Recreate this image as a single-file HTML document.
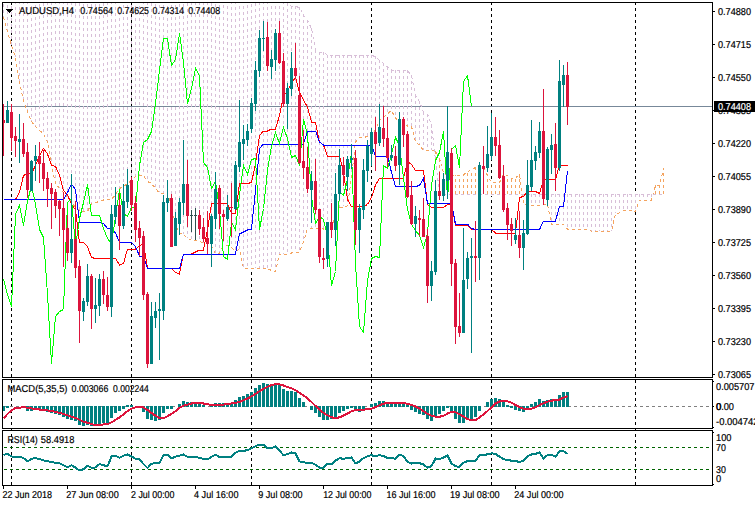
<!DOCTYPE html>
<html><head><meta charset="utf-8"><title>AUDUSD,H4</title>
<style>html,body{margin:0;padding:0;background:#fff;overflow:hidden}body{width:755px;height:506px;font-family:"Liberation Sans",sans-serif}</style></head>
<body>
<svg width="755" height="506" viewBox="0 0 755 506" shape-rendering="crispEdges" style="display:block">
<rect x="0" y="0" width="755" height="506" fill="#fff"/>
<defs><clipPath id="cm"><rect x="3" y="3" width="709" height="374"/></clipPath><clipPath id="c2"><rect x="3" y="380" width="709" height="48"/></clipPath><clipPath id="c3"><rect x="3" y="431" width="709" height="54"/></clipPath></defs>
<rect x="11" y="2" width="1" height="3" fill="#000"/>
<rect x="11" y="8" width="1" height="3" fill="#000"/>
<rect x="11" y="14" width="1" height="3" fill="#000"/>
<rect x="11" y="20" width="1" height="3" fill="#000"/>
<rect x="11" y="26" width="1" height="3" fill="#000"/>
<rect x="11" y="32" width="1" height="3" fill="#000"/>
<rect x="11" y="38" width="1" height="3" fill="#000"/>
<rect x="11" y="44" width="1" height="3" fill="#000"/>
<rect x="11" y="50" width="1" height="3" fill="#000"/>
<rect x="11" y="56" width="1" height="3" fill="#000"/>
<rect x="11" y="62" width="1" height="3" fill="#000"/>
<rect x="11" y="68" width="1" height="3" fill="#000"/>
<rect x="11" y="74" width="1" height="3" fill="#000"/>
<rect x="11" y="80" width="1" height="3" fill="#000"/>
<rect x="11" y="86" width="1" height="3" fill="#000"/>
<rect x="11" y="92" width="1" height="3" fill="#000"/>
<rect x="11" y="98" width="1" height="3" fill="#000"/>
<rect x="11" y="104" width="1" height="3" fill="#000"/>
<rect x="11" y="110" width="1" height="3" fill="#000"/>
<rect x="11" y="116" width="1" height="3" fill="#000"/>
<rect x="11" y="122" width="1" height="3" fill="#000"/>
<rect x="11" y="128" width="1" height="3" fill="#000"/>
<rect x="11" y="134" width="1" height="3" fill="#000"/>
<rect x="11" y="140" width="1" height="3" fill="#000"/>
<rect x="11" y="146" width="1" height="3" fill="#000"/>
<rect x="11" y="152" width="1" height="3" fill="#000"/>
<rect x="11" y="158" width="1" height="3" fill="#000"/>
<rect x="11" y="164" width="1" height="3" fill="#000"/>
<rect x="11" y="170" width="1" height="3" fill="#000"/>
<rect x="11" y="176" width="1" height="3" fill="#000"/>
<rect x="11" y="182" width="1" height="3" fill="#000"/>
<rect x="11" y="188" width="1" height="3" fill="#000"/>
<rect x="11" y="194" width="1" height="3" fill="#000"/>
<rect x="11" y="200" width="1" height="3" fill="#000"/>
<rect x="11" y="206" width="1" height="3" fill="#000"/>
<rect x="11" y="212" width="1" height="3" fill="#000"/>
<rect x="11" y="218" width="1" height="3" fill="#000"/>
<rect x="11" y="224" width="1" height="3" fill="#000"/>
<rect x="11" y="230" width="1" height="3" fill="#000"/>
<rect x="11" y="236" width="1" height="3" fill="#000"/>
<rect x="11" y="242" width="1" height="3" fill="#000"/>
<rect x="11" y="248" width="1" height="3" fill="#000"/>
<rect x="11" y="254" width="1" height="3" fill="#000"/>
<rect x="11" y="260" width="1" height="3" fill="#000"/>
<rect x="11" y="266" width="1" height="3" fill="#000"/>
<rect x="11" y="272" width="1" height="3" fill="#000"/>
<rect x="11" y="278" width="1" height="3" fill="#000"/>
<rect x="11" y="284" width="1" height="3" fill="#000"/>
<rect x="11" y="290" width="1" height="3" fill="#000"/>
<rect x="11" y="296" width="1" height="3" fill="#000"/>
<rect x="11" y="302" width="1" height="3" fill="#000"/>
<rect x="11" y="308" width="1" height="3" fill="#000"/>
<rect x="11" y="314" width="1" height="3" fill="#000"/>
<rect x="11" y="320" width="1" height="3" fill="#000"/>
<rect x="11" y="326" width="1" height="3" fill="#000"/>
<rect x="11" y="332" width="1" height="3" fill="#000"/>
<rect x="11" y="338" width="1" height="3" fill="#000"/>
<rect x="11" y="344" width="1" height="3" fill="#000"/>
<rect x="11" y="350" width="1" height="3" fill="#000"/>
<rect x="11" y="356" width="1" height="3" fill="#000"/>
<rect x="11" y="362" width="1" height="3" fill="#000"/>
<rect x="11" y="368" width="1" height="3" fill="#000"/>
<rect x="11" y="374" width="1" height="3" fill="#000"/>
<rect x="11" y="380" width="1" height="3" fill="#000"/>
<rect x="11" y="386" width="1" height="3" fill="#000"/>
<rect x="11" y="392" width="1" height="3" fill="#000"/>
<rect x="11" y="398" width="1" height="3" fill="#000"/>
<rect x="11" y="404" width="1" height="3" fill="#000"/>
<rect x="11" y="410" width="1" height="3" fill="#000"/>
<rect x="11" y="416" width="1" height="3" fill="#000"/>
<rect x="11" y="422" width="1" height="3" fill="#000"/>
<rect x="11" y="428" width="1" height="3" fill="#000"/>
<rect x="11" y="434" width="1" height="3" fill="#000"/>
<rect x="11" y="440" width="1" height="3" fill="#000"/>
<rect x="11" y="446" width="1" height="3" fill="#000"/>
<rect x="11" y="452" width="1" height="3" fill="#000"/>
<rect x="11" y="458" width="1" height="3" fill="#000"/>
<rect x="11" y="464" width="1" height="3" fill="#000"/>
<rect x="11" y="470" width="1" height="3" fill="#000"/>
<rect x="11" y="476" width="1" height="3" fill="#000"/>
<rect x="11" y="482" width="1" height="3" fill="#000"/>
<rect x="131" y="2" width="1" height="3" fill="#000"/>
<rect x="131" y="8" width="1" height="3" fill="#000"/>
<rect x="131" y="14" width="1" height="3" fill="#000"/>
<rect x="131" y="20" width="1" height="3" fill="#000"/>
<rect x="131" y="26" width="1" height="3" fill="#000"/>
<rect x="131" y="32" width="1" height="3" fill="#000"/>
<rect x="131" y="38" width="1" height="3" fill="#000"/>
<rect x="131" y="44" width="1" height="3" fill="#000"/>
<rect x="131" y="50" width="1" height="3" fill="#000"/>
<rect x="131" y="56" width="1" height="3" fill="#000"/>
<rect x="131" y="62" width="1" height="3" fill="#000"/>
<rect x="131" y="68" width="1" height="3" fill="#000"/>
<rect x="131" y="74" width="1" height="3" fill="#000"/>
<rect x="131" y="80" width="1" height="3" fill="#000"/>
<rect x="131" y="86" width="1" height="3" fill="#000"/>
<rect x="131" y="92" width="1" height="3" fill="#000"/>
<rect x="131" y="98" width="1" height="3" fill="#000"/>
<rect x="131" y="104" width="1" height="3" fill="#000"/>
<rect x="131" y="110" width="1" height="3" fill="#000"/>
<rect x="131" y="116" width="1" height="3" fill="#000"/>
<rect x="131" y="122" width="1" height="3" fill="#000"/>
<rect x="131" y="128" width="1" height="3" fill="#000"/>
<rect x="131" y="134" width="1" height="3" fill="#000"/>
<rect x="131" y="140" width="1" height="3" fill="#000"/>
<rect x="131" y="146" width="1" height="3" fill="#000"/>
<rect x="131" y="152" width="1" height="3" fill="#000"/>
<rect x="131" y="158" width="1" height="3" fill="#000"/>
<rect x="131" y="164" width="1" height="3" fill="#000"/>
<rect x="131" y="170" width="1" height="3" fill="#000"/>
<rect x="131" y="176" width="1" height="3" fill="#000"/>
<rect x="131" y="182" width="1" height="3" fill="#000"/>
<rect x="131" y="188" width="1" height="3" fill="#000"/>
<rect x="131" y="194" width="1" height="3" fill="#000"/>
<rect x="131" y="200" width="1" height="3" fill="#000"/>
<rect x="131" y="206" width="1" height="3" fill="#000"/>
<rect x="131" y="212" width="1" height="3" fill="#000"/>
<rect x="131" y="218" width="1" height="3" fill="#000"/>
<rect x="131" y="224" width="1" height="3" fill="#000"/>
<rect x="131" y="230" width="1" height="3" fill="#000"/>
<rect x="131" y="236" width="1" height="3" fill="#000"/>
<rect x="131" y="242" width="1" height="3" fill="#000"/>
<rect x="131" y="248" width="1" height="3" fill="#000"/>
<rect x="131" y="254" width="1" height="3" fill="#000"/>
<rect x="131" y="260" width="1" height="3" fill="#000"/>
<rect x="131" y="266" width="1" height="3" fill="#000"/>
<rect x="131" y="272" width="1" height="3" fill="#000"/>
<rect x="131" y="278" width="1" height="3" fill="#000"/>
<rect x="131" y="284" width="1" height="3" fill="#000"/>
<rect x="131" y="290" width="1" height="3" fill="#000"/>
<rect x="131" y="296" width="1" height="3" fill="#000"/>
<rect x="131" y="302" width="1" height="3" fill="#000"/>
<rect x="131" y="308" width="1" height="3" fill="#000"/>
<rect x="131" y="314" width="1" height="3" fill="#000"/>
<rect x="131" y="320" width="1" height="3" fill="#000"/>
<rect x="131" y="326" width="1" height="3" fill="#000"/>
<rect x="131" y="332" width="1" height="3" fill="#000"/>
<rect x="131" y="338" width="1" height="3" fill="#000"/>
<rect x="131" y="344" width="1" height="3" fill="#000"/>
<rect x="131" y="350" width="1" height="3" fill="#000"/>
<rect x="131" y="356" width="1" height="3" fill="#000"/>
<rect x="131" y="362" width="1" height="3" fill="#000"/>
<rect x="131" y="368" width="1" height="3" fill="#000"/>
<rect x="131" y="374" width="1" height="3" fill="#000"/>
<rect x="131" y="380" width="1" height="3" fill="#000"/>
<rect x="131" y="386" width="1" height="3" fill="#000"/>
<rect x="131" y="392" width="1" height="3" fill="#000"/>
<rect x="131" y="398" width="1" height="3" fill="#000"/>
<rect x="131" y="404" width="1" height="3" fill="#000"/>
<rect x="131" y="410" width="1" height="3" fill="#000"/>
<rect x="131" y="416" width="1" height="3" fill="#000"/>
<rect x="131" y="422" width="1" height="3" fill="#000"/>
<rect x="131" y="428" width="1" height="3" fill="#000"/>
<rect x="131" y="434" width="1" height="3" fill="#000"/>
<rect x="131" y="440" width="1" height="3" fill="#000"/>
<rect x="131" y="446" width="1" height="3" fill="#000"/>
<rect x="131" y="452" width="1" height="3" fill="#000"/>
<rect x="131" y="458" width="1" height="3" fill="#000"/>
<rect x="131" y="464" width="1" height="3" fill="#000"/>
<rect x="131" y="470" width="1" height="3" fill="#000"/>
<rect x="131" y="476" width="1" height="3" fill="#000"/>
<rect x="131" y="482" width="1" height="3" fill="#000"/>
<rect x="251" y="272" width="1" height="3" fill="#000"/>
<rect x="251" y="278" width="1" height="3" fill="#000"/>
<rect x="251" y="284" width="1" height="3" fill="#000"/>
<rect x="251" y="290" width="1" height="3" fill="#000"/>
<rect x="251" y="296" width="1" height="3" fill="#000"/>
<rect x="251" y="302" width="1" height="3" fill="#000"/>
<rect x="251" y="308" width="1" height="3" fill="#000"/>
<rect x="251" y="314" width="1" height="3" fill="#000"/>
<rect x="251" y="320" width="1" height="3" fill="#000"/>
<rect x="251" y="326" width="1" height="3" fill="#000"/>
<rect x="251" y="332" width="1" height="3" fill="#000"/>
<rect x="251" y="338" width="1" height="3" fill="#000"/>
<rect x="251" y="344" width="1" height="3" fill="#000"/>
<rect x="251" y="350" width="1" height="3" fill="#000"/>
<rect x="251" y="356" width="1" height="3" fill="#000"/>
<rect x="251" y="362" width="1" height="3" fill="#000"/>
<rect x="251" y="368" width="1" height="3" fill="#000"/>
<rect x="251" y="374" width="1" height="3" fill="#000"/>
<rect x="251" y="380" width="1" height="3" fill="#000"/>
<rect x="251" y="386" width="1" height="3" fill="#000"/>
<rect x="251" y="392" width="1" height="3" fill="#000"/>
<rect x="251" y="398" width="1" height="3" fill="#000"/>
<rect x="251" y="404" width="1" height="3" fill="#000"/>
<rect x="251" y="410" width="1" height="3" fill="#000"/>
<rect x="251" y="416" width="1" height="3" fill="#000"/>
<rect x="251" y="422" width="1" height="3" fill="#000"/>
<rect x="251" y="428" width="1" height="3" fill="#000"/>
<rect x="251" y="434" width="1" height="3" fill="#000"/>
<rect x="251" y="440" width="1" height="3" fill="#000"/>
<rect x="251" y="446" width="1" height="3" fill="#000"/>
<rect x="251" y="452" width="1" height="3" fill="#000"/>
<rect x="251" y="458" width="1" height="3" fill="#000"/>
<rect x="251" y="464" width="1" height="3" fill="#000"/>
<rect x="251" y="470" width="1" height="3" fill="#000"/>
<rect x="251" y="476" width="1" height="3" fill="#000"/>
<rect x="251" y="482" width="1" height="3" fill="#000"/>
<rect x="371" y="2" width="1" height="3" fill="#000"/>
<rect x="371" y="8" width="1" height="3" fill="#000"/>
<rect x="371" y="14" width="1" height="3" fill="#000"/>
<rect x="371" y="20" width="1" height="3" fill="#000"/>
<rect x="371" y="26" width="1" height="3" fill="#000"/>
<rect x="371" y="32" width="1" height="3" fill="#000"/>
<rect x="371" y="38" width="1" height="3" fill="#000"/>
<rect x="371" y="44" width="1" height="3" fill="#000"/>
<rect x="371" y="50" width="1" height="3" fill="#000"/>
<rect x="371" y="140" width="1" height="3" fill="#000"/>
<rect x="371" y="146" width="1" height="3" fill="#000"/>
<rect x="371" y="152" width="1" height="3" fill="#000"/>
<rect x="371" y="158" width="1" height="3" fill="#000"/>
<rect x="371" y="164" width="1" height="3" fill="#000"/>
<rect x="371" y="170" width="1" height="3" fill="#000"/>
<rect x="371" y="176" width="1" height="3" fill="#000"/>
<rect x="371" y="182" width="1" height="3" fill="#000"/>
<rect x="371" y="188" width="1" height="3" fill="#000"/>
<rect x="371" y="194" width="1" height="3" fill="#000"/>
<rect x="371" y="200" width="1" height="3" fill="#000"/>
<rect x="371" y="206" width="1" height="3" fill="#000"/>
<rect x="371" y="212" width="1" height="3" fill="#000"/>
<rect x="371" y="218" width="1" height="3" fill="#000"/>
<rect x="371" y="224" width="1" height="3" fill="#000"/>
<rect x="371" y="230" width="1" height="3" fill="#000"/>
<rect x="371" y="236" width="1" height="3" fill="#000"/>
<rect x="371" y="242" width="1" height="3" fill="#000"/>
<rect x="371" y="248" width="1" height="3" fill="#000"/>
<rect x="371" y="254" width="1" height="3" fill="#000"/>
<rect x="371" y="260" width="1" height="3" fill="#000"/>
<rect x="371" y="266" width="1" height="3" fill="#000"/>
<rect x="371" y="272" width="1" height="3" fill="#000"/>
<rect x="371" y="278" width="1" height="3" fill="#000"/>
<rect x="371" y="284" width="1" height="3" fill="#000"/>
<rect x="371" y="290" width="1" height="3" fill="#000"/>
<rect x="371" y="296" width="1" height="3" fill="#000"/>
<rect x="371" y="302" width="1" height="3" fill="#000"/>
<rect x="371" y="308" width="1" height="3" fill="#000"/>
<rect x="371" y="314" width="1" height="3" fill="#000"/>
<rect x="371" y="320" width="1" height="3" fill="#000"/>
<rect x="371" y="326" width="1" height="3" fill="#000"/>
<rect x="371" y="332" width="1" height="3" fill="#000"/>
<rect x="371" y="338" width="1" height="3" fill="#000"/>
<rect x="371" y="344" width="1" height="3" fill="#000"/>
<rect x="371" y="350" width="1" height="3" fill="#000"/>
<rect x="371" y="356" width="1" height="3" fill="#000"/>
<rect x="371" y="362" width="1" height="3" fill="#000"/>
<rect x="371" y="368" width="1" height="3" fill="#000"/>
<rect x="371" y="374" width="1" height="3" fill="#000"/>
<rect x="371" y="380" width="1" height="3" fill="#000"/>
<rect x="371" y="386" width="1" height="3" fill="#000"/>
<rect x="371" y="392" width="1" height="3" fill="#000"/>
<rect x="371" y="398" width="1" height="3" fill="#000"/>
<rect x="371" y="404" width="1" height="3" fill="#000"/>
<rect x="371" y="410" width="1" height="3" fill="#000"/>
<rect x="371" y="416" width="1" height="3" fill="#000"/>
<rect x="371" y="422" width="1" height="3" fill="#000"/>
<rect x="371" y="428" width="1" height="3" fill="#000"/>
<rect x="371" y="434" width="1" height="3" fill="#000"/>
<rect x="371" y="440" width="1" height="3" fill="#000"/>
<rect x="371" y="446" width="1" height="3" fill="#000"/>
<rect x="371" y="452" width="1" height="3" fill="#000"/>
<rect x="371" y="458" width="1" height="3" fill="#000"/>
<rect x="371" y="464" width="1" height="3" fill="#000"/>
<rect x="371" y="470" width="1" height="3" fill="#000"/>
<rect x="371" y="476" width="1" height="3" fill="#000"/>
<rect x="371" y="482" width="1" height="3" fill="#000"/>
<rect x="491" y="2" width="1" height="3" fill="#000"/>
<rect x="491" y="8" width="1" height="3" fill="#000"/>
<rect x="491" y="14" width="1" height="3" fill="#000"/>
<rect x="491" y="20" width="1" height="3" fill="#000"/>
<rect x="491" y="26" width="1" height="3" fill="#000"/>
<rect x="491" y="32" width="1" height="3" fill="#000"/>
<rect x="491" y="38" width="1" height="3" fill="#000"/>
<rect x="491" y="44" width="1" height="3" fill="#000"/>
<rect x="491" y="50" width="1" height="3" fill="#000"/>
<rect x="491" y="56" width="1" height="3" fill="#000"/>
<rect x="491" y="62" width="1" height="3" fill="#000"/>
<rect x="491" y="68" width="1" height="3" fill="#000"/>
<rect x="491" y="74" width="1" height="3" fill="#000"/>
<rect x="491" y="80" width="1" height="3" fill="#000"/>
<rect x="491" y="86" width="1" height="3" fill="#000"/>
<rect x="491" y="92" width="1" height="3" fill="#000"/>
<rect x="491" y="98" width="1" height="3" fill="#000"/>
<rect x="491" y="104" width="1" height="3" fill="#000"/>
<rect x="491" y="110" width="1" height="3" fill="#000"/>
<rect x="491" y="116" width="1" height="3" fill="#000"/>
<rect x="491" y="122" width="1" height="3" fill="#000"/>
<rect x="491" y="128" width="1" height="3" fill="#000"/>
<rect x="491" y="134" width="1" height="3" fill="#000"/>
<rect x="491" y="140" width="1" height="3" fill="#000"/>
<rect x="491" y="146" width="1" height="3" fill="#000"/>
<rect x="491" y="152" width="1" height="3" fill="#000"/>
<rect x="491" y="158" width="1" height="3" fill="#000"/>
<rect x="491" y="164" width="1" height="3" fill="#000"/>
<rect x="491" y="170" width="1" height="3" fill="#000"/>
<rect x="491" y="176" width="1" height="3" fill="#000"/>
<rect x="491" y="196" width="1" height="1" fill="#000"/>
<rect x="491" y="200" width="1" height="3" fill="#000"/>
<rect x="491" y="206" width="1" height="3" fill="#000"/>
<rect x="491" y="212" width="1" height="3" fill="#000"/>
<rect x="491" y="218" width="1" height="3" fill="#000"/>
<rect x="491" y="224" width="1" height="3" fill="#000"/>
<rect x="491" y="230" width="1" height="3" fill="#000"/>
<rect x="491" y="236" width="1" height="3" fill="#000"/>
<rect x="491" y="242" width="1" height="3" fill="#000"/>
<rect x="491" y="248" width="1" height="3" fill="#000"/>
<rect x="491" y="254" width="1" height="3" fill="#000"/>
<rect x="491" y="260" width="1" height="3" fill="#000"/>
<rect x="491" y="266" width="1" height="3" fill="#000"/>
<rect x="491" y="272" width="1" height="3" fill="#000"/>
<rect x="491" y="278" width="1" height="3" fill="#000"/>
<rect x="491" y="284" width="1" height="3" fill="#000"/>
<rect x="491" y="290" width="1" height="3" fill="#000"/>
<rect x="491" y="296" width="1" height="3" fill="#000"/>
<rect x="491" y="302" width="1" height="3" fill="#000"/>
<rect x="491" y="308" width="1" height="3" fill="#000"/>
<rect x="491" y="314" width="1" height="3" fill="#000"/>
<rect x="491" y="320" width="1" height="3" fill="#000"/>
<rect x="491" y="326" width="1" height="3" fill="#000"/>
<rect x="491" y="332" width="1" height="3" fill="#000"/>
<rect x="491" y="338" width="1" height="3" fill="#000"/>
<rect x="491" y="344" width="1" height="3" fill="#000"/>
<rect x="491" y="350" width="1" height="3" fill="#000"/>
<rect x="491" y="356" width="1" height="3" fill="#000"/>
<rect x="491" y="362" width="1" height="3" fill="#000"/>
<rect x="491" y="368" width="1" height="3" fill="#000"/>
<rect x="491" y="374" width="1" height="3" fill="#000"/>
<rect x="491" y="380" width="1" height="3" fill="#000"/>
<rect x="491" y="386" width="1" height="3" fill="#000"/>
<rect x="491" y="392" width="1" height="3" fill="#000"/>
<rect x="491" y="398" width="1" height="3" fill="#000"/>
<rect x="491" y="404" width="1" height="3" fill="#000"/>
<rect x="491" y="410" width="1" height="3" fill="#000"/>
<rect x="491" y="416" width="1" height="3" fill="#000"/>
<rect x="491" y="422" width="1" height="3" fill="#000"/>
<rect x="491" y="428" width="1" height="3" fill="#000"/>
<rect x="491" y="434" width="1" height="3" fill="#000"/>
<rect x="491" y="440" width="1" height="3" fill="#000"/>
<rect x="491" y="446" width="1" height="3" fill="#000"/>
<rect x="491" y="452" width="1" height="3" fill="#000"/>
<rect x="491" y="458" width="1" height="3" fill="#000"/>
<rect x="491" y="464" width="1" height="3" fill="#000"/>
<rect x="491" y="470" width="1" height="3" fill="#000"/>
<rect x="491" y="476" width="1" height="3" fill="#000"/>
<rect x="491" y="482" width="1" height="3" fill="#000"/>
<rect x="635" y="2" width="1" height="3" fill="#000"/>
<rect x="635" y="8" width="1" height="3" fill="#000"/>
<rect x="635" y="14" width="1" height="3" fill="#000"/>
<rect x="635" y="20" width="1" height="3" fill="#000"/>
<rect x="635" y="26" width="1" height="3" fill="#000"/>
<rect x="635" y="32" width="1" height="3" fill="#000"/>
<rect x="635" y="38" width="1" height="3" fill="#000"/>
<rect x="635" y="44" width="1" height="3" fill="#000"/>
<rect x="635" y="50" width="1" height="3" fill="#000"/>
<rect x="635" y="56" width="1" height="3" fill="#000"/>
<rect x="635" y="62" width="1" height="3" fill="#000"/>
<rect x="635" y="68" width="1" height="3" fill="#000"/>
<rect x="635" y="74" width="1" height="3" fill="#000"/>
<rect x="635" y="80" width="1" height="3" fill="#000"/>
<rect x="635" y="86" width="1" height="3" fill="#000"/>
<rect x="635" y="92" width="1" height="3" fill="#000"/>
<rect x="635" y="98" width="1" height="3" fill="#000"/>
<rect x="635" y="104" width="1" height="3" fill="#000"/>
<rect x="635" y="110" width="1" height="3" fill="#000"/>
<rect x="635" y="116" width="1" height="3" fill="#000"/>
<rect x="635" y="122" width="1" height="3" fill="#000"/>
<rect x="635" y="128" width="1" height="3" fill="#000"/>
<rect x="635" y="134" width="1" height="3" fill="#000"/>
<rect x="635" y="140" width="1" height="3" fill="#000"/>
<rect x="635" y="146" width="1" height="3" fill="#000"/>
<rect x="635" y="152" width="1" height="3" fill="#000"/>
<rect x="635" y="158" width="1" height="3" fill="#000"/>
<rect x="635" y="164" width="1" height="3" fill="#000"/>
<rect x="635" y="170" width="1" height="3" fill="#000"/>
<rect x="635" y="176" width="1" height="3" fill="#000"/>
<rect x="635" y="182" width="1" height="3" fill="#000"/>
<rect x="635" y="188" width="1" height="3" fill="#000"/>
<rect x="635" y="194" width="1" height="3" fill="#000"/>
<rect x="635" y="200" width="1" height="3" fill="#000"/>
<rect x="635" y="206" width="1" height="3" fill="#000"/>
<rect x="635" y="212" width="1" height="3" fill="#000"/>
<rect x="635" y="218" width="1" height="3" fill="#000"/>
<rect x="635" y="224" width="1" height="3" fill="#000"/>
<rect x="635" y="230" width="1" height="3" fill="#000"/>
<rect x="635" y="236" width="1" height="3" fill="#000"/>
<rect x="635" y="242" width="1" height="3" fill="#000"/>
<rect x="635" y="248" width="1" height="3" fill="#000"/>
<rect x="635" y="254" width="1" height="3" fill="#000"/>
<rect x="635" y="260" width="1" height="3" fill="#000"/>
<rect x="635" y="266" width="1" height="3" fill="#000"/>
<rect x="635" y="272" width="1" height="3" fill="#000"/>
<rect x="635" y="278" width="1" height="3" fill="#000"/>
<rect x="635" y="284" width="1" height="3" fill="#000"/>
<rect x="635" y="290" width="1" height="3" fill="#000"/>
<rect x="635" y="296" width="1" height="3" fill="#000"/>
<rect x="635" y="302" width="1" height="3" fill="#000"/>
<rect x="635" y="308" width="1" height="3" fill="#000"/>
<rect x="635" y="314" width="1" height="3" fill="#000"/>
<rect x="635" y="320" width="1" height="3" fill="#000"/>
<rect x="635" y="326" width="1" height="3" fill="#000"/>
<rect x="635" y="332" width="1" height="3" fill="#000"/>
<rect x="635" y="338" width="1" height="3" fill="#000"/>
<rect x="635" y="344" width="1" height="3" fill="#000"/>
<rect x="635" y="350" width="1" height="3" fill="#000"/>
<rect x="635" y="356" width="1" height="3" fill="#000"/>
<rect x="635" y="362" width="1" height="3" fill="#000"/>
<rect x="635" y="368" width="1" height="3" fill="#000"/>
<rect x="635" y="374" width="1" height="3" fill="#000"/>
<rect x="635" y="380" width="1" height="3" fill="#000"/>
<rect x="635" y="386" width="1" height="3" fill="#000"/>
<rect x="635" y="392" width="1" height="3" fill="#000"/>
<rect x="635" y="398" width="1" height="3" fill="#000"/>
<rect x="635" y="404" width="1" height="3" fill="#000"/>
<rect x="635" y="410" width="1" height="3" fill="#000"/>
<rect x="635" y="416" width="1" height="3" fill="#000"/>
<rect x="635" y="422" width="1" height="3" fill="#000"/>
<rect x="635" y="428" width="1" height="3" fill="#000"/>
<rect x="635" y="434" width="1" height="3" fill="#000"/>
<rect x="635" y="440" width="1" height="3" fill="#000"/>
<rect x="635" y="446" width="1" height="3" fill="#000"/>
<rect x="635" y="452" width="1" height="3" fill="#000"/>
<rect x="635" y="458" width="1" height="3" fill="#000"/>
<rect x="635" y="464" width="1" height="3" fill="#000"/>
<rect x="635" y="470" width="1" height="3" fill="#000"/>
<rect x="635" y="476" width="1" height="3" fill="#000"/>
<rect x="635" y="482" width="1" height="3" fill="#000"/>
<g clip-path="url(#cm)">
<rect x="3" y="106" width="709" height="1" fill="#778899"/>
<path d="M3.5 -8V17" stroke="#D8BFD8" stroke-width="1" stroke-dasharray="3,3" fill="none"/>
<path d="M7.5 -7V31" stroke="#D8BFD8" stroke-width="1" stroke-dasharray="3,3" fill="none"/>
<path d="M11.5 -6V45" stroke="#D8BFD8" stroke-width="1" stroke-dasharray="3,3" fill="none"/>
<path d="M15.5 -5V57" stroke="#D8BFD8" stroke-width="1" stroke-dasharray="3,3" fill="none"/>
<path d="M19.5 -5V82" stroke="#D8BFD8" stroke-width="1" stroke-dasharray="3,3" fill="none"/>
<path d="M23.5 -5V100" stroke="#D8BFD8" stroke-width="1" stroke-dasharray="3,3" fill="none"/>
<path d="M27.5 -5V111" stroke="#D8BFD8" stroke-width="1" stroke-dasharray="3,3" fill="none"/>
<path d="M31.5 -6V121" stroke="#D8BFD8" stroke-width="1" stroke-dasharray="3,3" fill="none"/>
<path d="M35.5 -7V126" stroke="#D8BFD8" stroke-width="1" stroke-dasharray="3,3" fill="none"/>
<path d="M39.5 -8V130" stroke="#D8BFD8" stroke-width="1" stroke-dasharray="3,3" fill="none"/>
<path d="M43.5 -9V133" stroke="#D8BFD8" stroke-width="1" stroke-dasharray="3,3" fill="none"/>
<path d="M47.5 -10V142" stroke="#D8BFD8" stroke-width="1" stroke-dasharray="3,3" fill="none"/>
<path d="M51.5 -10V165" stroke="#D8BFD8" stroke-width="1" stroke-dasharray="3,3" fill="none"/>
<path d="M55.5 -11V183" stroke="#D8BFD8" stroke-width="1" stroke-dasharray="3,3" fill="none"/>
<path d="M59.5 -11V188" stroke="#D8BFD8" stroke-width="1" stroke-dasharray="3,3" fill="none"/>
<path d="M63.5 -11V192" stroke="#D8BFD8" stroke-width="1" stroke-dasharray="3,3" fill="none"/>
<path d="M67.5 -10V197" stroke="#D8BFD8" stroke-width="1" stroke-dasharray="3,3" fill="none"/>
<path d="M71.5 -10V202" stroke="#D8BFD8" stroke-width="1" stroke-dasharray="3,3" fill="none"/>
<path d="M75.5 -9V207" stroke="#D8BFD8" stroke-width="1" stroke-dasharray="3,3" fill="none"/>
<path d="M79.5 -9V210" stroke="#D8BFD8" stroke-width="1" stroke-dasharray="3,3" fill="none"/>
<path d="M83.5 -8V212" stroke="#D8BFD8" stroke-width="1" stroke-dasharray="3,3" fill="none"/>
<path d="M87.5 -8V211" stroke="#D8BFD8" stroke-width="1" stroke-dasharray="3,3" fill="none"/>
<path d="M91.5 -8V203" stroke="#D8BFD8" stroke-width="1" stroke-dasharray="3,3" fill="none"/>
<path d="M95.5 -8V202" stroke="#D8BFD8" stroke-width="1" stroke-dasharray="3,3" fill="none"/>
<path d="M99.5 -8V201" stroke="#D8BFD8" stroke-width="1" stroke-dasharray="3,3" fill="none"/>
<path d="M103.5 -9V200" stroke="#D8BFD8" stroke-width="1" stroke-dasharray="3,3" fill="none"/>
<path d="M107.5 -10V199" stroke="#D8BFD8" stroke-width="1" stroke-dasharray="3,3" fill="none"/>
<path d="M111.5 -11V199" stroke="#D8BFD8" stroke-width="1" stroke-dasharray="3,3" fill="none"/>
<path d="M115.5 -11V194" stroke="#D8BFD8" stroke-width="1" stroke-dasharray="3,3" fill="none"/>
<path d="M119.5 -12V188" stroke="#D8BFD8" stroke-width="1" stroke-dasharray="3,3" fill="none"/>
<path d="M123.5 -13V186" stroke="#D8BFD8" stroke-width="1" stroke-dasharray="3,3" fill="none"/>
<path d="M127.5 -13V183" stroke="#D8BFD8" stroke-width="1" stroke-dasharray="3,3" fill="none"/>
<path d="M131.5 -13V180" stroke="#D8BFD8" stroke-width="1" stroke-dasharray="3,3" fill="none"/>
<path d="M135.5 -12V176" stroke="#D8BFD8" stroke-width="1" stroke-dasharray="3,3" fill="none"/>
<path d="M139.5 -12V175" stroke="#D8BFD8" stroke-width="1" stroke-dasharray="3,3" fill="none"/>
<path d="M143.5 -11V175" stroke="#D8BFD8" stroke-width="1" stroke-dasharray="3,3" fill="none"/>
<path d="M147.5 -10V181" stroke="#D8BFD8" stroke-width="1" stroke-dasharray="3,3" fill="none"/>
<path d="M151.5 -9V183" stroke="#D8BFD8" stroke-width="1" stroke-dasharray="3,3" fill="none"/>
<path d="M155.5 -8V188" stroke="#D8BFD8" stroke-width="1" stroke-dasharray="3,3" fill="none"/>
<path d="M159.5 -7V192" stroke="#D8BFD8" stroke-width="1" stroke-dasharray="3,3" fill="none"/>
<path d="M163.5 -7V194" stroke="#D8BFD8" stroke-width="1" stroke-dasharray="3,3" fill="none"/>
<path d="M167.5 -6V193" stroke="#D8BFD8" stroke-width="1" stroke-dasharray="3,3" fill="none"/>
<path d="M171.5 -7V205" stroke="#D8BFD8" stroke-width="1" stroke-dasharray="3,3" fill="none"/>
<path d="M175.5 -7V225" stroke="#D8BFD8" stroke-width="1" stroke-dasharray="3,3" fill="none"/>
<path d="M179.5 -8V233" stroke="#D8BFD8" stroke-width="1" stroke-dasharray="3,3" fill="none"/>
<path d="M183.5 -8V234" stroke="#D8BFD8" stroke-width="1" stroke-dasharray="3,3" fill="none"/>
<path d="M187.5 -9V238" stroke="#D8BFD8" stroke-width="1" stroke-dasharray="3,3" fill="none"/>
<path d="M191.5 -10V240" stroke="#D8BFD8" stroke-width="1" stroke-dasharray="3,3" fill="none"/>
<path d="M195.5 -10V240" stroke="#D8BFD8" stroke-width="1" stroke-dasharray="3,3" fill="none"/>
<path d="M199.5 -10V240" stroke="#D8BFD8" stroke-width="1" stroke-dasharray="3,3" fill="none"/>
<path d="M203.5 -10V243" stroke="#D8BFD8" stroke-width="1" stroke-dasharray="3,3" fill="none"/>
<path d="M207.5 -10V243" stroke="#D8BFD8" stroke-width="1" stroke-dasharray="3,3" fill="none"/>
<path d="M211.5 -9V245" stroke="#D8BFD8" stroke-width="1" stroke-dasharray="3,3" fill="none"/>
<path d="M215.5 -8V253" stroke="#D8BFD8" stroke-width="1" stroke-dasharray="3,3" fill="none"/>
<path d="M219.5 -7V252" stroke="#D8BFD8" stroke-width="1" stroke-dasharray="3,3" fill="none"/>
<path d="M223.5 -7V245" stroke="#D8BFD8" stroke-width="1" stroke-dasharray="3,3" fill="none"/>
<path d="M227.5 -6V245" stroke="#D8BFD8" stroke-width="1" stroke-dasharray="3,3" fill="none"/>
<path d="M231.5 -5V247" stroke="#D8BFD8" stroke-width="1" stroke-dasharray="3,3" fill="none"/>
<path d="M235.5 -5V250" stroke="#D8BFD8" stroke-width="1" stroke-dasharray="3,3" fill="none"/>
<path d="M239.5 -6V249" stroke="#D8BFD8" stroke-width="1" stroke-dasharray="3,3" fill="none"/>
<path d="M243.5 -6V268" stroke="#D8BFD8" stroke-width="1" stroke-dasharray="3,3" fill="none"/>
<path d="M247.5 -7V268" stroke="#D8BFD8" stroke-width="1" stroke-dasharray="3,3" fill="none"/>
<path d="M251.5 -8V268" stroke="#D8BFD8" stroke-width="1" stroke-dasharray="3,3" fill="none"/>
<path d="M255.5 -9V268" stroke="#D8BFD8" stroke-width="1" stroke-dasharray="3,3" fill="none"/>
<path d="M259.5 -10V268" stroke="#D8BFD8" stroke-width="1" stroke-dasharray="3,3" fill="none"/>
<path d="M263.5 -11V268" stroke="#D8BFD8" stroke-width="1" stroke-dasharray="3,3" fill="none"/>
<path d="M267.5 -11V268" stroke="#D8BFD8" stroke-width="1" stroke-dasharray="3,3" fill="none"/>
<path d="M271.5 -12V270" stroke="#D8BFD8" stroke-width="1" stroke-dasharray="3,3" fill="none"/>
<path d="M275.5 -12V271" stroke="#D8BFD8" stroke-width="1" stroke-dasharray="3,3" fill="none"/>
<path d="M279.5 -12V254" stroke="#D8BFD8" stroke-width="1" stroke-dasharray="3,3" fill="none"/>
<path d="M283.5 -11V254" stroke="#D8BFD8" stroke-width="1" stroke-dasharray="3,3" fill="none"/>
<path d="M287.5 3V254" stroke="#D8BFD8" stroke-width="1" stroke-dasharray="3,3" fill="none"/>
<path d="M291.5 6V252" stroke="#D8BFD8" stroke-width="1" stroke-dasharray="3,3" fill="none"/>
<path d="M295.5 6V252" stroke="#D8BFD8" stroke-width="1" stroke-dasharray="3,3" fill="none"/>
<path d="M299.5 7V252" stroke="#D8BFD8" stroke-width="1" stroke-dasharray="3,3" fill="none"/>
<path d="M303.5 14V242" stroke="#D8BFD8" stroke-width="1" stroke-dasharray="3,3" fill="none"/>
<path d="M307.5 20V228" stroke="#D8BFD8" stroke-width="1" stroke-dasharray="3,3" fill="none"/>
<path d="M311.5 28V228" stroke="#D8BFD8" stroke-width="1" stroke-dasharray="3,3" fill="none"/>
<path d="M315.5 50V228" stroke="#D8BFD8" stroke-width="1" stroke-dasharray="3,3" fill="none"/>
<path d="M319.5 52V228" stroke="#D8BFD8" stroke-width="1" stroke-dasharray="3,3" fill="none"/>
<path d="M323.5 52V228" stroke="#D8BFD8" stroke-width="1" stroke-dasharray="3,3" fill="none"/>
<path d="M327.5 55V233" stroke="#D8BFD8" stroke-width="1" stroke-dasharray="3,3" fill="none"/>
<path d="M331.5 55V234" stroke="#D8BFD8" stroke-width="1" stroke-dasharray="3,3" fill="none"/>
<path d="M335.5 55V208" stroke="#D8BFD8" stroke-width="1" stroke-dasharray="3,3" fill="none"/>
<path d="M339.5 55V207" stroke="#D8BFD8" stroke-width="1" stroke-dasharray="3,3" fill="none"/>
<path d="M343.5 55V206" stroke="#D8BFD8" stroke-width="1" stroke-dasharray="3,3" fill="none"/>
<path d="M347.5 55V205" stroke="#D8BFD8" stroke-width="1" stroke-dasharray="3,3" fill="none"/>
<path d="M351.5 55V177" stroke="#D8BFD8" stroke-width="1" stroke-dasharray="3,3" fill="none"/>
<path d="M355.5 55V142" stroke="#D8BFD8" stroke-width="1" stroke-dasharray="3,3" fill="none"/>
<path d="M359.5 55V137" stroke="#D8BFD8" stroke-width="1" stroke-dasharray="3,3" fill="none"/>
<path d="M363.5 55V137" stroke="#D8BFD8" stroke-width="1" stroke-dasharray="3,3" fill="none"/>
<path d="M367.5 55V136" stroke="#D8BFD8" stroke-width="1" stroke-dasharray="3,3" fill="none"/>
<path d="M371.5 55V136" stroke="#D8BFD8" stroke-width="1" stroke-dasharray="3,3" fill="none"/>
<path d="M375.5 56V129" stroke="#D8BFD8" stroke-width="1" stroke-dasharray="3,3" fill="none"/>
<path d="M379.5 60V120" stroke="#D8BFD8" stroke-width="1" stroke-dasharray="3,3" fill="none"/>
<path d="M383.5 63V117" stroke="#D8BFD8" stroke-width="1" stroke-dasharray="3,3" fill="none"/>
<path d="M387.5 67V113" stroke="#D8BFD8" stroke-width="1" stroke-dasharray="3,3" fill="none"/>
<path d="M391.5 70V110" stroke="#D8BFD8" stroke-width="1" stroke-dasharray="3,3" fill="none"/>
<path d="M395.5 70V118" stroke="#D8BFD8" stroke-width="1" stroke-dasharray="3,3" fill="none"/>
<path d="M399.5 70V122" stroke="#D8BFD8" stroke-width="1" stroke-dasharray="3,3" fill="none"/>
<path d="M403.5 70V118" stroke="#D8BFD8" stroke-width="1" stroke-dasharray="3,3" fill="none"/>
<path d="M407.5 70V126" stroke="#D8BFD8" stroke-width="1" stroke-dasharray="3,3" fill="none"/>
<path d="M411.5 75V126" stroke="#D8BFD8" stroke-width="1" stroke-dasharray="3,3" fill="none"/>
<path d="M415.5 95V142" stroke="#D8BFD8" stroke-width="1" stroke-dasharray="3,3" fill="none"/>
<path d="M419.5 101V144" stroke="#D8BFD8" stroke-width="1" stroke-dasharray="3,3" fill="none"/>
<path d="M423.5 112V150" stroke="#D8BFD8" stroke-width="1" stroke-dasharray="3,3" fill="none"/>
<path d="M427.5 114V150" stroke="#D8BFD8" stroke-width="1" stroke-dasharray="3,3" fill="none"/>
<path d="M431.5 124V150" stroke="#D8BFD8" stroke-width="1" stroke-dasharray="3,3" fill="none"/>
<path d="M435.5 160V150" stroke="#F4A460" stroke-width="1" stroke-dasharray="3,3" fill="none"/>
<path d="M439.5 192V158" stroke="#F4A460" stroke-width="1" stroke-dasharray="3,3" fill="none"/>
<path d="M443.5 194V172" stroke="#F4A460" stroke-width="1" stroke-dasharray="3,3" fill="none"/>
<path d="M447.5 194V175" stroke="#F4A460" stroke-width="1" stroke-dasharray="3,3" fill="none"/>
<path d="M451.5 194V175" stroke="#F4A460" stroke-width="1" stroke-dasharray="3,3" fill="none"/>
<path d="M455.5 194V175" stroke="#F4A460" stroke-width="1" stroke-dasharray="3,3" fill="none"/>
<path d="M459.5 194V175" stroke="#F4A460" stroke-width="1" stroke-dasharray="3,3" fill="none"/>
<path d="M463.5 194V174" stroke="#F4A460" stroke-width="1" stroke-dasharray="3,3" fill="none"/>
<path d="M467.5 194V171" stroke="#F4A460" stroke-width="1" stroke-dasharray="3,3" fill="none"/>
<path d="M471.5 194V170" stroke="#F4A460" stroke-width="1" stroke-dasharray="3,3" fill="none"/>
<path d="M475.5 194V167" stroke="#F4A460" stroke-width="1" stroke-dasharray="3,3" fill="none"/>
<path d="M479.5 194V167" stroke="#F4A460" stroke-width="1" stroke-dasharray="3,3" fill="none"/>
<path d="M483.5 194V167" stroke="#F4A460" stroke-width="1" stroke-dasharray="3,3" fill="none"/>
<path d="M487.5 194V175" stroke="#F4A460" stroke-width="1" stroke-dasharray="3,3" fill="none"/>
<path d="M491.5 194V182" stroke="#F4A460" stroke-width="1" stroke-dasharray="3,3" fill="none"/>
<path d="M495.5 194V182" stroke="#F4A460" stroke-width="1" stroke-dasharray="3,3" fill="none"/>
<path d="M499.5 194V182" stroke="#F4A460" stroke-width="1" stroke-dasharray="3,3" fill="none"/>
<path d="M503.5 194V174" stroke="#F4A460" stroke-width="1" stroke-dasharray="3,3" fill="none"/>
<path d="M507.5 194V175" stroke="#F4A460" stroke-width="1" stroke-dasharray="3,3" fill="none"/>
<path d="M511.5 194V178" stroke="#F4A460" stroke-width="1" stroke-dasharray="3,3" fill="none"/>
<path d="M515.5 194V178" stroke="#F4A460" stroke-width="1" stroke-dasharray="3,3" fill="none"/>
<path d="M519.5 194V174" stroke="#F4A460" stroke-width="1" stroke-dasharray="3,3" fill="none"/>
<path d="M523.5 194V204" stroke="#D8BFD8" stroke-width="1" stroke-dasharray="3,3" fill="none"/>
<path d="M527.5 194V205" stroke="#D8BFD8" stroke-width="1" stroke-dasharray="3,3" fill="none"/>
<path d="M531.5 194V205" stroke="#D8BFD8" stroke-width="1" stroke-dasharray="3,3" fill="none"/>
<path d="M535.5 194V205" stroke="#D8BFD8" stroke-width="1" stroke-dasharray="3,3" fill="none"/>
<path d="M539.5 194V205" stroke="#D8BFD8" stroke-width="1" stroke-dasharray="3,3" fill="none"/>
<path d="M543.5 194V204" stroke="#D8BFD8" stroke-width="1" stroke-dasharray="3,3" fill="none"/>
<path d="M547.5 194V204" stroke="#D8BFD8" stroke-width="1" stroke-dasharray="3,3" fill="none"/>
<path d="M551.5 194V224" stroke="#D8BFD8" stroke-width="1" stroke-dasharray="3,3" fill="none"/>
<path d="M555.5 194V224" stroke="#D8BFD8" stroke-width="1" stroke-dasharray="3,3" fill="none"/>
<path d="M559.5 194V224" stroke="#D8BFD8" stroke-width="1" stroke-dasharray="3,3" fill="none"/>
<path d="M563.5 194V224" stroke="#D8BFD8" stroke-width="1" stroke-dasharray="3,3" fill="none"/>
<path d="M567.5 194V228" stroke="#D8BFD8" stroke-width="1" stroke-dasharray="3,3" fill="none"/>
<path d="M571.5 194V229" stroke="#D8BFD8" stroke-width="1" stroke-dasharray="3,3" fill="none"/>
<path d="M575.5 194V229" stroke="#D8BFD8" stroke-width="1" stroke-dasharray="3,3" fill="none"/>
<path d="M579.5 194V229" stroke="#D8BFD8" stroke-width="1" stroke-dasharray="3,3" fill="none"/>
<path d="M583.5 194V229" stroke="#D8BFD8" stroke-width="1" stroke-dasharray="3,3" fill="none"/>
<path d="M587.5 194V229" stroke="#D8BFD8" stroke-width="1" stroke-dasharray="3,3" fill="none"/>
<path d="M591.5 194V231" stroke="#D8BFD8" stroke-width="1" stroke-dasharray="3,3" fill="none"/>
<path d="M595.5 194V231" stroke="#D8BFD8" stroke-width="1" stroke-dasharray="3,3" fill="none"/>
<path d="M599.5 194V231" stroke="#D8BFD8" stroke-width="1" stroke-dasharray="3,3" fill="none"/>
<path d="M603.5 194V231" stroke="#D8BFD8" stroke-width="1" stroke-dasharray="3,3" fill="none"/>
<path d="M607.5 194V231" stroke="#D8BFD8" stroke-width="1" stroke-dasharray="3,3" fill="none"/>
<path d="M611.5 194V231" stroke="#D8BFD8" stroke-width="1" stroke-dasharray="3,3" fill="none"/>
<path d="M615.5 194V213" stroke="#D8BFD8" stroke-width="1" stroke-dasharray="3,3" fill="none"/>
<path d="M619.5 194V212" stroke="#D8BFD8" stroke-width="1" stroke-dasharray="3,3" fill="none"/>
<path d="M623.5 194V210" stroke="#D8BFD8" stroke-width="1" stroke-dasharray="3,3" fill="none"/>
<path d="M627.5 194V210" stroke="#D8BFD8" stroke-width="1" stroke-dasharray="3,3" fill="none"/>
<path d="M631.5 194V210" stroke="#D8BFD8" stroke-width="1" stroke-dasharray="3,3" fill="none"/>
<path d="M635.5 194V211" stroke="#D8BFD8" stroke-width="1" stroke-dasharray="3,3" fill="none"/>
<path d="M639.5 194V200" stroke="#D8BFD8" stroke-width="1" stroke-dasharray="3,3" fill="none"/>
<path d="M643.5 194V200" stroke="#D8BFD8" stroke-width="1" stroke-dasharray="3,3" fill="none"/>
<path d="M647.5 194V200" stroke="#D8BFD8" stroke-width="1" stroke-dasharray="3,3" fill="none"/>
<path d="M651.5 194V200" stroke="#D8BFD8" stroke-width="1" stroke-dasharray="3,3" fill="none"/>
<path d="M655.5 194V185" stroke="#F4A460" stroke-width="1" stroke-dasharray="3,3" fill="none"/>
<path d="M659.5 194V185" stroke="#F4A460" stroke-width="1" stroke-dasharray="3,3" fill="none"/>
<path d="M663.5 194V168" stroke="#F4A460" stroke-width="1" stroke-dasharray="3,3" fill="none"/>
<polyline points="3.5,17.5 7.5,31.5 11.5,45.5 15.5,57.5 19.5,82.5 23.5,100.5 27.5,111.5 31.5,121.5 35.5,126.5 39.5,130.5 43.5,133.5 47.5,142.5 51.5,165.5 55.5,183.5 59.5,188.5 63.5,192.5 67.5,197.5 71.5,202.5 75.5,207.5 79.5,210.5 83.5,212.0 87.5,211.5 91.5,203.5 95.5,202.5 99.5,201.5 103.5,200.0 107.5,199.5 111.5,199.5 115.5,194.5 119.5,188.5 123.5,186.5 127.5,183.5 131.5,180.5 135.5,176.5 139.5,175.5 143.5,175.5 147.5,181.5 151.5,183.5 155.5,188.5 159.5,193.0 163.5,194.0 167.5,193.5 171.5,205.5 175.5,225.5 179.5,233.5 183.5,234.5 187.5,238.5 191.5,240.2 195.5,240.2 199.5,241.0 203.5,243.5 207.5,243.5 211.5,245.8 215.5,253.8 219.5,253.0 223.5,245.8 227.5,245.8 231.5,247.8 235.5,251.0 239.5,249.5 243.5,268.5 247.5,268.5 251.5,268.5 255.5,268.5 259.5,268.5 263.5,268.5 267.5,268.5 271.5,270.5 275.5,271.2 279.5,254.0 283.5,254.0 287.5,254.0 291.5,253.0 295.5,252.0 299.5,252.0 303.5,242.0 307.5,228.8 311.5,228.8 315.5,228.8 319.5,228.8 323.5,228.8 327.5,233.8 331.5,234.0 335.5,208.8 339.5,207.8 343.5,206.8 347.5,205.8 351.5,177.2 355.5,142.0 359.5,137.5 363.5,137.5 367.5,136.5 371.5,136.5 375.5,129.8 379.5,120.2 383.5,117.2 387.5,113.8 391.5,110.5 395.5,118.2 399.5,122.0 403.5,119.0 407.5,126.5 411.5,126.5 415.5,142.0 419.5,145.0 423.5,150.5 427.5,150.5 431.5,150.5 435.5,150.5 439.5,158.8 443.5,172.2 447.5,175.8 451.5,175.8 455.5,175.8 459.5,175.8 463.5,174.8 467.5,171.2 471.5,170.5 475.5,167.2 479.5,167.2 483.5,167.2 487.5,175.5 491.5,182.5 495.5,182.5 499.5,182.5 503.5,174.0 507.5,175.5 511.5,178.5 515.5,178.0 519.5,174.5 523.5,204.0 527.5,205.5 531.5,205.5 535.5,205.5 539.5,205.5 543.5,204.0 547.5,204.0 551.5,224.5 555.5,224.5 559.5,224.5 563.5,224.5 567.5,229.0 571.5,229.5 575.5,229.5 579.5,229.5 583.5,229.5 587.5,229.5 591.5,231.2 595.5,231.2 599.5,231.2 603.5,231.2 607.5,231.2 611.5,231.2 615.5,213.5 619.5,213.0 623.5,210.5 627.5,210.5 631.5,210.5 635.5,211.5 639.5,200.2 643.5,200.2 647.5,200.2 651.5,200.2 655.5,185.8 659.5,185.8 663.5,168.0" fill="none" stroke="#F4A460" stroke-width="1" stroke-dasharray="3,3"/>
<polyline points="283.5,-10.5 287.5,3.5 291.5,6.5 295.5,6.5 299.5,7.5 303.5,15.0 307.5,20.5 311.5,28.5 315.5,50.5 319.5,52.1 323.5,52.1 327.5,55.1 331.5,55.5 335.5,55.5 339.5,55.5 343.5,55.5 347.5,55.5 351.5,55.5 355.5,55.5 359.5,55.5 363.5,55.5 367.5,55.5 371.5,55.5 375.5,56.5 379.5,60.5 383.5,63.1 387.5,67.1 391.5,70.0 395.5,70.0 399.5,70.0 403.5,70.0 407.5,70.5 411.5,75.5 415.5,95.5 419.5,101.5 423.5,112.1 427.5,114.2 431.5,124.5 435.5,160.5 439.5,192.5 443.5,194.7 447.5,194.7 451.5,194.7 455.5,194.7 459.5,194.7 463.5,194.7 467.5,194.7 471.5,194.7 475.5,194.7 479.5,194.7 483.5,194.7 487.5,194.7 491.5,194.7 495.5,194.7 499.5,194.7 503.5,194.7 507.5,194.7 511.5,194.7 515.5,194.7 519.5,194.7 523.5,194.7 527.5,194.7 531.5,194.7 535.5,194.7 539.5,194.7 543.5,194.7 547.5,194.7 551.5,194.7 555.5,194.7 559.5,194.7 563.5,194.7 567.5,194.7 571.5,194.7 575.5,194.7 579.5,194.7 583.5,194.7 587.5,194.7 591.5,194.7 595.5,194.7 599.5,194.7 603.5,194.7 607.5,194.7 611.5,194.7 615.5,194.7 619.5,194.7 623.5,194.7 627.5,194.7 631.5,194.7 635.5,194.7 639.5,194.7 643.5,194.7 647.5,194.7 651.5,194.7 655.5,194.7 659.5,194.7 663.5,194.7" fill="none" stroke="#D8BFD8" stroke-width="1" stroke-dasharray="3,3"/>
<polyline points="3.5,199.5 7.5,199.5 11.5,199.5 15.5,199.5 19.5,192.5 23.5,175.5 27.5,173.5 31.5,173.5 35.5,165.5 39.5,155.5 43.5,148.5 47.5,154.0 51.5,165.0 55.5,166.5 59.5,175.0 63.5,190.5 67.5,195.0 71.5,204.5 75.5,210.0 79.5,242.5 83.5,242.5 87.5,246.5 91.5,257.5 95.5,258.5 99.5,258.5 103.5,258.5 107.5,258.5 111.5,258.5 115.5,258.5 119.5,265.0 123.5,263.5 127.5,249.0 131.5,249.0 135.5,249.0 139.5,246.0 143.5,243.0 147.5,268.5 151.5,268.5 155.5,268.5 159.5,268.5 163.5,268.5 167.5,268.5 171.5,268.5 175.5,272.5 179.5,274.0 183.5,254.0 187.5,254.0 191.5,254.0 195.5,252.0 199.5,250.0 203.5,250.0 207.5,230.0 211.5,203.5 215.5,203.5 219.5,203.5 223.5,203.5 227.5,203.5 231.5,213.5 235.5,214.0 239.5,183.5 243.5,183.5 247.5,183.5 251.5,182.5 255.5,164.0 259.5,135.5 263.5,131.0 267.5,131.0 271.5,129.0 275.5,129.0 279.5,115.5 283.5,96.5 287.5,90.5 291.5,83.5 295.5,77.0 299.5,92.5 303.5,100.0 307.5,107.0 311.5,122.0 315.5,122.0 319.5,142.0 323.5,145.0 327.5,156.0 331.5,156.0 335.5,156.0 339.5,156.0 343.5,172.5 347.5,199.5 351.5,206.5 355.5,206.5 359.5,206.5 363.5,206.5 367.5,204.5 371.5,197.5 375.5,185.0 379.5,178.5 383.5,178.5 387.5,178.5 391.5,178.5 395.5,178.5 399.5,178.5 403.5,178.5 407.5,161.5 411.5,164.5 415.5,170.5 419.5,170.5 423.5,170.5 427.5,204.5 431.5,207.5 435.5,207.5 439.5,207.5 443.5,207.5 447.5,204.5 451.5,204.5 455.5,225.0 459.5,225.0 463.5,225.0 467.5,225.0 471.5,229.5 475.5,229.5 479.5,229.5 483.5,229.5 487.5,229.5 491.5,229.5 495.5,233.0 499.5,233.0 503.5,233.0 507.5,233.0 511.5,233.0 515.5,233.0 519.5,197.5 523.5,196.5 527.5,191.5 531.5,191.5 535.5,191.5 539.5,193.5 543.5,179.5 547.5,179.5 551.5,179.5 555.5,179.5 559.5,165.0 563.5,165.0 567.5,165.0" fill="none" stroke="#FF0000" stroke-width="1"/>
<polyline points="3.5,199.5 7.5,199.5 11.5,199.5 15.5,199.5 19.5,199.5 23.5,199.5 27.5,199.5 31.5,199.5 35.5,199.5 39.5,199.5 43.5,199.5 47.5,199.5 51.5,199.5 55.5,199.5 59.5,199.5 63.5,199.5 67.5,192.5 71.5,184.0 75.5,189.5 79.5,222.0 83.5,222.0 87.5,222.0 91.5,222.0 95.5,222.0 99.5,222.0 103.5,223.5 107.5,228.5 111.5,228.5 115.5,233.0 119.5,242.5 123.5,242.5 127.5,242.5 131.5,242.5 135.5,246.5 139.5,256.0 143.5,256.0 147.5,268.5 151.5,268.5 155.5,268.5 159.5,268.5 163.5,268.5 167.5,268.5 171.5,268.5 175.5,268.5 179.5,268.5 183.5,254.0 187.5,254.0 191.5,254.0 195.5,254.0 199.5,254.0 203.5,254.0 207.5,254.0 211.5,254.0 215.5,254.0 219.5,254.0 223.5,254.0 227.5,254.0 231.5,254.0 235.5,254.0 239.5,234.0 243.5,232.0 247.5,230.0 251.5,229.0 255.5,190.5 259.5,148.5 263.5,144.0 267.5,144.0 271.5,144.0 275.5,144.0 279.5,144.0 283.5,144.0 287.5,144.0 291.5,144.0 295.5,144.0 299.5,144.0 303.5,144.0 307.5,131.0 311.5,131.0 315.5,131.0 319.5,142.0 323.5,145.0 327.5,145.0 331.5,145.0 335.5,145.0 339.5,145.0 343.5,145.0 347.5,145.0 351.5,145.0 355.5,145.0 359.5,145.0 363.5,145.0 367.5,145.0 371.5,145.0 375.5,156.0 379.5,156.0 383.5,156.0 387.5,156.0 391.5,172.5 395.5,186.5 399.5,186.5 403.5,186.5 407.5,186.5 411.5,186.5 415.5,186.5 419.5,185.5 423.5,178.5 427.5,203.5 431.5,203.5 435.5,203.5 439.5,203.5 443.5,203.5 447.5,203.5 451.5,203.5 455.5,224.0 459.5,224.0 463.5,224.0 467.5,224.0 471.5,228.5 475.5,229.5 479.5,229.5 483.5,229.5 487.5,229.5 491.5,229.5 495.5,229.5 499.5,229.5 503.5,229.5 507.5,229.5 511.5,229.5 515.5,229.5 519.5,229.5 523.5,229.5 527.5,229.5 531.5,229.5 535.5,229.5 539.5,229.5 543.5,221.0 547.5,221.0 551.5,221.0 555.5,221.0 559.5,206.5 563.5,206.5 567.5,171.0" fill="none" stroke="#0000FF" stroke-width="1"/>
<polyline points="3.5,279.5 7.5,294.5 11.5,306.5 15.5,214.5 19.5,205.5 23.5,225.5 27.5,201.5 31.5,185.5 35.5,204.5 39.5,229.5 43.5,237.5 47.5,294.5 51.5,363.5 55.5,316.5 59.5,311.5 63.5,309.5 67.5,202.5 71.5,198.5 75.5,246.5 79.5,218.5 83.5,202.5 87.5,184.5 91.5,215.5 95.5,215.5 99.5,215.5 103.5,228.5 107.5,238.5 111.5,243.5 115.5,216.5 119.5,189.5 123.5,213.5 127.5,216.5 131.5,207.5 135.5,207.5 139.5,165.5 143.5,142.5 147.5,139.5 151.5,131.5 155.5,103.5 159.5,70.5 163.5,38.5 167.5,38.5 171.5,65.5 175.5,59.5 179.5,33.5 183.5,62.5 187.5,103.5 191.5,88.5 195.5,68.5 199.5,75.5 203.5,162.5 207.5,167.5 211.5,188.5 215.5,181.5 219.5,209.5 223.5,256.5 227.5,259.5 231.5,222.5 235.5,229.5 239.5,194.5 243.5,165.5 247.5,174.5 251.5,159.5 255.5,158.5 259.5,229.5 263.5,208.5 267.5,170.5 271.5,146.5 275.5,132.5 279.5,143.5 283.5,127.5 287.5,138.5 291.5,157.5 295.5,155.5 299.5,165.5 303.5,119.5 307.5,134.5 311.5,196.5 315.5,223.5 319.5,216.5 323.5,219.5 327.5,236.5 331.5,285.5 335.5,271.5 339.5,191.5 343.5,195.5 347.5,179.5 351.5,152.5 355.5,263.5 359.5,326.5 363.5,332.5 367.5,280.5 371.5,258.5 375.5,256.5 379.5,257.5 383.5,165.5 387.5,168.5 391.5,154.5 395.5,137.5 399.5,145.5 403.5,177.5 407.5,209.5 411.5,224.5 415.5,230.5 419.5,235.5 423.5,247.5 427.5,233.5 431.5,185.5 435.5,160.5 439.5,152.5 443.5,131.5 447.5,198.5 451.5,149.5 455.5,145.5 459.5,167.5 463.5,81.5 467.5,75.5 471.5,106.5" fill="none" stroke="#00FF00" stroke-width="1"/>
<rect x="3" y="104" width="1" height="52" fill="#DC143C"/>
<rect x="2" y="120" width="3" height="3" fill="#DC143C"/>
<rect x="7" y="101" width="1" height="22" fill="#008080"/>
<rect x="6" y="110" width="3" height="13" fill="#008080"/>
<rect x="11" y="104" width="1" height="47" fill="#DC143C"/>
<rect x="10" y="112" width="3" height="26" fill="#DC143C"/>
<rect x="15" y="127" width="1" height="30" fill="#DC143C"/>
<rect x="14" y="136" width="3" height="5" fill="#DC143C"/>
<rect x="19" y="114" width="1" height="49" fill="#008080"/>
<rect x="18" y="139" width="3" height="3" fill="#008080"/>
<rect x="23" y="123" width="1" height="34" fill="#DC143C"/>
<rect x="22" y="139" width="3" height="15" fill="#DC143C"/>
<rect x="27" y="143" width="1" height="55" fill="#DC143C"/>
<rect x="26" y="152" width="3" height="38" fill="#DC143C"/>
<rect x="31" y="160" width="1" height="31" fill="#008080"/>
<rect x="30" y="161" width="3" height="30" fill="#008080"/>
<rect x="35" y="145" width="1" height="36" fill="#008080"/>
<rect x="34" y="156" width="3" height="5" fill="#008080"/>
<rect x="39" y="142" width="1" height="41" fill="#DC143C"/>
<rect x="38" y="156" width="3" height="8" fill="#DC143C"/>
<rect x="43" y="150" width="1" height="41" fill="#DC143C"/>
<rect x="42" y="163" width="3" height="16" fill="#DC143C"/>
<rect x="47" y="172" width="1" height="35" fill="#DC143C"/>
<rect x="46" y="178" width="3" height="11" fill="#DC143C"/>
<rect x="51" y="183" width="1" height="46" fill="#DC143C"/>
<rect x="50" y="188" width="3" height="6" fill="#DC143C"/>
<rect x="55" y="189" width="1" height="29" fill="#DC143C"/>
<rect x="54" y="192" width="3" height="14" fill="#DC143C"/>
<rect x="59" y="200" width="1" height="36" fill="#DC143C"/>
<rect x="58" y="201" width="3" height="8" fill="#DC143C"/>
<rect x="63" y="192" width="1" height="75" fill="#DC143C"/>
<rect x="62" y="208" width="3" height="22" fill="#DC143C"/>
<rect x="67" y="215" width="1" height="46" fill="#DC143C"/>
<rect x="66" y="228" width="3" height="25" fill="#DC143C"/>
<rect x="71" y="174" width="1" height="89" fill="#008080"/>
<rect x="70" y="239" width="3" height="14" fill="#008080"/>
<rect x="75" y="201" width="1" height="77" fill="#DC143C"/>
<rect x="74" y="239" width="3" height="29" fill="#DC143C"/>
<rect x="79" y="260" width="1" height="83" fill="#DC143C"/>
<rect x="78" y="266" width="3" height="45" fill="#DC143C"/>
<rect x="83" y="298" width="1" height="23" fill="#008080"/>
<rect x="82" y="301" width="3" height="11" fill="#008080"/>
<rect x="87" y="264" width="1" height="42" fill="#008080"/>
<rect x="86" y="276" width="3" height="26" fill="#008080"/>
<rect x="91" y="274" width="1" height="55" fill="#DC143C"/>
<rect x="90" y="276" width="3" height="33" fill="#DC143C"/>
<rect x="95" y="278" width="1" height="45" fill="#008080"/>
<rect x="94" y="305" width="3" height="4" fill="#008080"/>
<rect x="99" y="274" width="1" height="42" fill="#008080"/>
<rect x="98" y="279" width="3" height="27" fill="#008080"/>
<rect x="103" y="271" width="1" height="33" fill="#DC143C"/>
<rect x="102" y="279" width="3" height="16" fill="#DC143C"/>
<rect x="107" y="277" width="1" height="34" fill="#DC143C"/>
<rect x="106" y="295" width="3" height="12" fill="#DC143C"/>
<rect x="111" y="205" width="1" height="112" fill="#008080"/>
<rect x="110" y="214" width="3" height="93" fill="#008080"/>
<rect x="115" y="187" width="1" height="37" fill="#008080"/>
<rect x="114" y="205" width="3" height="12" fill="#008080"/>
<rect x="119" y="193" width="1" height="57" fill="#DC143C"/>
<rect x="118" y="205" width="3" height="21" fill="#DC143C"/>
<rect x="123" y="184" width="1" height="45" fill="#008080"/>
<rect x="122" y="201" width="3" height="25" fill="#008080"/>
<rect x="127" y="169" width="1" height="39" fill="#008080"/>
<rect x="126" y="185" width="3" height="17" fill="#008080"/>
<rect x="131" y="177" width="1" height="34" fill="#DC143C"/>
<rect x="130" y="180" width="3" height="25" fill="#DC143C"/>
<rect x="135" y="196" width="1" height="46" fill="#DC143C"/>
<rect x="134" y="203" width="3" height="27" fill="#DC143C"/>
<rect x="139" y="221" width="1" height="35" fill="#DC143C"/>
<rect x="138" y="228" width="3" height="10" fill="#DC143C"/>
<rect x="143" y="231" width="1" height="69" fill="#DC143C"/>
<rect x="142" y="236" width="3" height="59" fill="#DC143C"/>
<rect x="147" y="292" width="1" height="76" fill="#DC143C"/>
<rect x="146" y="294" width="3" height="70" fill="#DC143C"/>
<rect x="151" y="302" width="1" height="62" fill="#008080"/>
<rect x="150" y="316" width="3" height="48" fill="#008080"/>
<rect x="155" y="302" width="1" height="26" fill="#008080"/>
<rect x="154" y="311" width="3" height="7" fill="#008080"/>
<rect x="159" y="293" width="1" height="67" fill="#008080"/>
<rect x="158" y="309" width="3" height="2" fill="#008080"/>
<rect x="163" y="195" width="1" height="125" fill="#008080"/>
<rect x="162" y="202" width="3" height="109" fill="#008080"/>
<rect x="167" y="180" width="1" height="32" fill="#008080"/>
<rect x="166" y="198" width="3" height="5" fill="#008080"/>
<rect x="171" y="194" width="1" height="53" fill="#DC143C"/>
<rect x="170" y="198" width="3" height="49" fill="#DC143C"/>
<rect x="175" y="212" width="1" height="34" fill="#008080"/>
<rect x="174" y="218" width="3" height="28" fill="#008080"/>
<rect x="179" y="198" width="1" height="37" fill="#008080"/>
<rect x="178" y="202" width="3" height="22" fill="#008080"/>
<rect x="183" y="140" width="1" height="75" fill="#008080"/>
<rect x="182" y="184" width="3" height="19" fill="#008080"/>
<rect x="187" y="160" width="1" height="67" fill="#DC143C"/>
<rect x="186" y="184" width="3" height="32" fill="#DC143C"/>
<rect x="191" y="210" width="1" height="22" fill="#2F4F4F"/>
<rect x="190" y="215" width="3" height="1" fill="#2F4F4F"/>
<rect x="195" y="208" width="1" height="32" fill="#2F4F4F"/>
<rect x="194" y="215" width="3" height="1" fill="#2F4F4F"/>
<rect x="199" y="210" width="1" height="25" fill="#DC143C"/>
<rect x="198" y="215" width="3" height="14" fill="#DC143C"/>
<rect x="203" y="218" width="1" height="24" fill="#DC143C"/>
<rect x="202" y="227" width="3" height="12" fill="#DC143C"/>
<rect x="207" y="211" width="1" height="43" fill="#DC143C"/>
<rect x="206" y="238" width="3" height="6" fill="#DC143C"/>
<rect x="211" y="214" width="1" height="53" fill="#008080"/>
<rect x="210" y="216" width="3" height="28" fill="#008080"/>
<rect x="215" y="172" width="1" height="57" fill="#008080"/>
<rect x="214" y="189" width="3" height="30" fill="#008080"/>
<rect x="219" y="185" width="1" height="44" fill="#DC143C"/>
<rect x="218" y="188" width="3" height="26" fill="#DC143C"/>
<rect x="223" y="210" width="1" height="31" fill="#DC143C"/>
<rect x="222" y="214" width="3" height="3" fill="#DC143C"/>
<rect x="227" y="195" width="1" height="26" fill="#008080"/>
<rect x="226" y="207" width="3" height="12" fill="#008080"/>
<rect x="231" y="183" width="1" height="54" fill="#DC143C"/>
<rect x="230" y="207" width="3" height="1" fill="#DC143C"/>
<rect x="235" y="161" width="1" height="49" fill="#008080"/>
<rect x="234" y="165" width="3" height="44" fill="#008080"/>
<rect x="239" y="100" width="1" height="72" fill="#008080"/>
<rect x="238" y="142" width="3" height="25" fill="#008080"/>
<rect x="243" y="125" width="1" height="35" fill="#008080"/>
<rect x="242" y="139" width="3" height="5" fill="#008080"/>
<rect x="247" y="124" width="1" height="22" fill="#008080"/>
<rect x="246" y="131" width="3" height="9" fill="#008080"/>
<rect x="251" y="98" width="1" height="35" fill="#008080"/>
<rect x="250" y="103" width="3" height="26" fill="#008080"/>
<rect x="255" y="61" width="1" height="50" fill="#008080"/>
<rect x="254" y="70" width="3" height="34" fill="#008080"/>
<rect x="259" y="30" width="1" height="47" fill="#008080"/>
<rect x="258" y="38" width="3" height="33" fill="#008080"/>
<rect x="263" y="21" width="1" height="30" fill="#008080"/>
<rect x="262" y="38" width="3" height="1" fill="#008080"/>
<rect x="267" y="22" width="1" height="49" fill="#DC143C"/>
<rect x="266" y="37" width="3" height="29" fill="#DC143C"/>
<rect x="271" y="50" width="1" height="29" fill="#008080"/>
<rect x="270" y="59" width="3" height="8" fill="#008080"/>
<rect x="275" y="29" width="1" height="42" fill="#008080"/>
<rect x="274" y="33" width="3" height="27" fill="#008080"/>
<rect x="279" y="21" width="1" height="43" fill="#DC143C"/>
<rect x="278" y="33" width="3" height="30" fill="#DC143C"/>
<rect x="283" y="53" width="1" height="54" fill="#DC143C"/>
<rect x="282" y="61" width="3" height="43" fill="#DC143C"/>
<rect x="287" y="83" width="1" height="46" fill="#008080"/>
<rect x="286" y="88" width="3" height="16" fill="#008080"/>
<rect x="291" y="52" width="1" height="44" fill="#008080"/>
<rect x="290" y="68" width="3" height="21" fill="#008080"/>
<rect x="295" y="43" width="1" height="36" fill="#DC143C"/>
<rect x="294" y="68" width="3" height="8" fill="#DC143C"/>
<rect x="299" y="76" width="1" height="88" fill="#DC143C"/>
<rect x="298" y="95" width="3" height="68" fill="#DC143C"/>
<rect x="303" y="130" width="1" height="49" fill="#DC143C"/>
<rect x="302" y="161" width="3" height="7" fill="#DC143C"/>
<rect x="307" y="147" width="1" height="46" fill="#DC143C"/>
<rect x="306" y="167" width="3" height="22" fill="#DC143C"/>
<rect x="311" y="171" width="1" height="52" fill="#008080"/>
<rect x="310" y="181" width="3" height="9" fill="#008080"/>
<rect x="315" y="159" width="1" height="55" fill="#DC143C"/>
<rect x="314" y="181" width="3" height="29" fill="#DC143C"/>
<rect x="319" y="209" width="1" height="54" fill="#DC143C"/>
<rect x="318" y="209" width="3" height="48" fill="#DC143C"/>
<rect x="323" y="248" width="1" height="21" fill="#DC143C"/>
<rect x="322" y="258" width="3" height="2" fill="#DC143C"/>
<rect x="327" y="222" width="1" height="45" fill="#008080"/>
<rect x="326" y="222" width="3" height="37" fill="#008080"/>
<rect x="331" y="203" width="1" height="35" fill="#DC143C"/>
<rect x="330" y="222" width="3" height="8" fill="#DC143C"/>
<rect x="335" y="173" width="1" height="73" fill="#008080"/>
<rect x="334" y="194" width="3" height="36" fill="#008080"/>
<rect x="339" y="149" width="1" height="51" fill="#008080"/>
<rect x="338" y="165" width="3" height="29" fill="#008080"/>
<rect x="343" y="157" width="1" height="29" fill="#DC143C"/>
<rect x="342" y="165" width="3" height="10" fill="#DC143C"/>
<rect x="347" y="156" width="1" height="35" fill="#008080"/>
<rect x="346" y="159" width="3" height="18" fill="#008080"/>
<rect x="351" y="144" width="1" height="25" fill="#008080"/>
<rect x="350" y="158" width="3" height="2" fill="#008080"/>
<rect x="355" y="150" width="1" height="95" fill="#DC143C"/>
<rect x="354" y="158" width="3" height="72" fill="#DC143C"/>
<rect x="359" y="204" width="1" height="49" fill="#008080"/>
<rect x="358" y="208" width="3" height="22" fill="#008080"/>
<rect x="363" y="159" width="1" height="60" fill="#008080"/>
<rect x="362" y="170" width="3" height="40" fill="#008080"/>
<rect x="367" y="140" width="1" height="42" fill="#008080"/>
<rect x="366" y="146" width="3" height="25" fill="#008080"/>
<rect x="371" y="128" width="1" height="38" fill="#008080"/>
<rect x="370" y="132" width="3" height="22" fill="#008080"/>
<rect x="375" y="117" width="1" height="54" fill="#DC143C"/>
<rect x="374" y="132" width="3" height="12" fill="#DC143C"/>
<rect x="379" y="104" width="1" height="42" fill="#008080"/>
<rect x="378" y="127" width="3" height="16" fill="#008080"/>
<rect x="383" y="106" width="1" height="41" fill="#DC143C"/>
<rect x="382" y="128" width="3" height="11" fill="#DC143C"/>
<rect x="387" y="117" width="1" height="50" fill="#DC143C"/>
<rect x="386" y="138" width="3" height="20" fill="#DC143C"/>
<rect x="391" y="145" width="1" height="16" fill="#008080"/>
<rect x="390" y="155" width="3" height="3" fill="#008080"/>
<rect x="395" y="146" width="1" height="25" fill="#DC143C"/>
<rect x="394" y="156" width="3" height="10" fill="#DC143C"/>
<rect x="399" y="112" width="1" height="73" fill="#008080"/>
<rect x="398" y="119" width="3" height="46" fill="#008080"/>
<rect x="403" y="117" width="1" height="30" fill="#DC143C"/>
<rect x="402" y="119" width="3" height="16" fill="#DC143C"/>
<rect x="407" y="131" width="1" height="67" fill="#DC143C"/>
<rect x="406" y="134" width="3" height="63" fill="#DC143C"/>
<rect x="411" y="181" width="1" height="44" fill="#DC143C"/>
<rect x="410" y="195" width="3" height="29" fill="#DC143C"/>
<rect x="415" y="206" width="1" height="31" fill="#008080"/>
<rect x="414" y="216" width="3" height="8" fill="#008080"/>
<rect x="419" y="210" width="1" height="26" fill="#DC143C"/>
<rect x="418" y="218" width="3" height="2" fill="#DC143C"/>
<rect x="423" y="198" width="1" height="39" fill="#DC143C"/>
<rect x="422" y="219" width="3" height="18" fill="#DC143C"/>
<rect x="427" y="229" width="1" height="74" fill="#DC143C"/>
<rect x="426" y="236" width="3" height="50" fill="#DC143C"/>
<rect x="431" y="261" width="1" height="40" fill="#008080"/>
<rect x="430" y="271" width="3" height="15" fill="#008080"/>
<rect x="435" y="180" width="1" height="95" fill="#008080"/>
<rect x="434" y="191" width="3" height="81" fill="#008080"/>
<rect x="439" y="172" width="1" height="28" fill="#DC143C"/>
<rect x="438" y="191" width="3" height="5" fill="#DC143C"/>
<rect x="443" y="173" width="1" height="28" fill="#008080"/>
<rect x="442" y="179" width="3" height="17" fill="#008080"/>
<rect x="447" y="106" width="1" height="93" fill="#008080"/>
<rect x="446" y="152" width="3" height="29" fill="#008080"/>
<rect x="451" y="148" width="1" height="138" fill="#DC143C"/>
<rect x="450" y="153" width="3" height="111" fill="#DC143C"/>
<rect x="455" y="259" width="1" height="85" fill="#DC143C"/>
<rect x="454" y="263" width="3" height="64" fill="#DC143C"/>
<rect x="459" y="293" width="1" height="44" fill="#DC143C"/>
<rect x="458" y="326" width="3" height="7" fill="#DC143C"/>
<rect x="463" y="228" width="1" height="105" fill="#008080"/>
<rect x="462" y="280" width="3" height="53" fill="#008080"/>
<rect x="467" y="252" width="1" height="37" fill="#008080"/>
<rect x="466" y="258" width="3" height="21" fill="#008080"/>
<rect x="471" y="238" width="1" height="115" fill="#008080"/>
<rect x="470" y="256" width="3" height="2" fill="#008080"/>
<rect x="475" y="221" width="1" height="61" fill="#DC143C"/>
<rect x="474" y="256" width="3" height="2" fill="#DC143C"/>
<rect x="479" y="162" width="1" height="118" fill="#008080"/>
<rect x="478" y="165" width="3" height="93" fill="#008080"/>
<rect x="483" y="146" width="1" height="48" fill="#DC143C"/>
<rect x="482" y="166" width="3" height="3" fill="#DC143C"/>
<rect x="487" y="126" width="1" height="46" fill="#008080"/>
<rect x="486" y="154" width="3" height="14" fill="#008080"/>
<rect x="491" y="113" width="1" height="47" fill="#008080"/>
<rect x="490" y="137" width="3" height="19" fill="#008080"/>
<rect x="495" y="117" width="1" height="39" fill="#DC143C"/>
<rect x="494" y="137" width="3" height="9" fill="#DC143C"/>
<rect x="499" y="130" width="1" height="49" fill="#DC143C"/>
<rect x="498" y="145" width="3" height="33" fill="#DC143C"/>
<rect x="503" y="165" width="1" height="47" fill="#DC143C"/>
<rect x="502" y="176" width="3" height="34" fill="#DC143C"/>
<rect x="507" y="203" width="1" height="37" fill="#DC143C"/>
<rect x="506" y="208" width="3" height="17" fill="#DC143C"/>
<rect x="511" y="218" width="1" height="28" fill="#DC143C"/>
<rect x="510" y="224" width="3" height="7" fill="#DC143C"/>
<rect x="515" y="218" width="1" height="26" fill="#008080"/>
<rect x="514" y="235" width="3" height="5" fill="#008080"/>
<rect x="519" y="211" width="1" height="47" fill="#DC143C"/>
<rect x="518" y="235" width="3" height="13" fill="#DC143C"/>
<rect x="523" y="220" width="1" height="50" fill="#008080"/>
<rect x="522" y="233" width="3" height="15" fill="#008080"/>
<rect x="527" y="160" width="1" height="75" fill="#008080"/>
<rect x="526" y="185" width="3" height="49" fill="#008080"/>
<rect x="531" y="120" width="1" height="71" fill="#008080"/>
<rect x="530" y="160" width="3" height="27" fill="#008080"/>
<rect x="535" y="146" width="1" height="24" fill="#008080"/>
<rect x="534" y="152" width="3" height="9" fill="#008080"/>
<rect x="539" y="122" width="1" height="36" fill="#008080"/>
<rect x="538" y="131" width="3" height="22" fill="#008080"/>
<rect x="543" y="89" width="1" height="116" fill="#DC143C"/>
<rect x="542" y="131" width="3" height="68" fill="#DC143C"/>
<rect x="547" y="147" width="1" height="59" fill="#008080"/>
<rect x="546" y="149" width="3" height="51" fill="#008080"/>
<rect x="551" y="134" width="1" height="40" fill="#008080"/>
<rect x="550" y="145" width="3" height="5" fill="#008080"/>
<rect x="555" y="123" width="1" height="68" fill="#DC143C"/>
<rect x="554" y="144" width="3" height="24" fill="#DC143C"/>
<rect x="559" y="60" width="1" height="111" fill="#008080"/>
<rect x="558" y="81" width="3" height="87" fill="#008080"/>
<rect x="563" y="65" width="1" height="42" fill="#008080"/>
<rect x="562" y="75" width="3" height="10" fill="#008080"/>
<rect x="567" y="62" width="1" height="63" fill="#DC143C"/>
<rect x="566" y="75" width="3" height="32" fill="#DC143C"/>
</g>
<g clip-path="url(#c2)">
<path d="M4 406.5H712" stroke="#808080" stroke-width="1" stroke-dasharray="3,3" fill="none"/>
<rect x="2" y="406" width="3" height="5" fill="#008080"/>
<rect x="6" y="406" width="3" height="2" fill="#008080"/>
<rect x="22" y="406" width="3" height="2" fill="#008080"/>
<rect x="26" y="406" width="3" height="5" fill="#008080"/>
<rect x="30" y="406" width="3" height="5" fill="#008080"/>
<rect x="34" y="406" width="3" height="4" fill="#008080"/>
<rect x="38" y="406" width="3" height="4" fill="#008080"/>
<rect x="42" y="406" width="3" height="5" fill="#008080"/>
<rect x="46" y="406" width="3" height="6" fill="#008080"/>
<rect x="50" y="406" width="3" height="7" fill="#008080"/>
<rect x="54" y="406" width="3" height="8" fill="#008080"/>
<rect x="58" y="406" width="3" height="9" fill="#008080"/>
<rect x="62" y="406" width="3" height="11" fill="#008080"/>
<rect x="66" y="406" width="3" height="13" fill="#008080"/>
<rect x="70" y="406" width="3" height="14" fill="#008080"/>
<rect x="74" y="406" width="3" height="15" fill="#008080"/>
<rect x="78" y="406" width="3" height="19" fill="#008080"/>
<rect x="82" y="406" width="3" height="20" fill="#008080"/>
<rect x="86" y="406" width="3" height="19" fill="#008080"/>
<rect x="90" y="406" width="3" height="20" fill="#008080"/>
<rect x="94" y="406" width="3" height="20" fill="#008080"/>
<rect x="98" y="406" width="3" height="18" fill="#008080"/>
<rect x="102" y="406" width="3" height="17" fill="#008080"/>
<rect x="106" y="406" width="3" height="18" fill="#008080"/>
<rect x="110" y="406" width="3" height="12" fill="#008080"/>
<rect x="114" y="406" width="3" height="7" fill="#008080"/>
<rect x="118" y="406" width="3" height="5" fill="#008080"/>
<rect x="122" y="406" width="3" height="3" fill="#008080"/>
<rect x="126" y="405" width="3" height="2" fill="#008080"/>
<rect x="130" y="405" width="3" height="2" fill="#008080"/>
<rect x="138" y="406" width="3" height="2" fill="#008080"/>
<rect x="142" y="406" width="3" height="6" fill="#008080"/>
<rect x="146" y="406" width="3" height="13" fill="#008080"/>
<rect x="150" y="406" width="3" height="14" fill="#008080"/>
<rect x="154" y="406" width="3" height="15" fill="#008080"/>
<rect x="158" y="406" width="3" height="14" fill="#008080"/>
<rect x="162" y="406" width="3" height="7" fill="#008080"/>
<rect x="166" y="406" width="3" height="3" fill="#008080"/>
<rect x="170" y="406" width="3" height="3" fill="#008080"/>
<rect x="178" y="404" width="3" height="3" fill="#008080"/>
<rect x="182" y="401" width="3" height="6" fill="#008080"/>
<rect x="186" y="402" width="3" height="5" fill="#008080"/>
<rect x="190" y="402" width="3" height="5" fill="#008080"/>
<rect x="194" y="402" width="3" height="5" fill="#008080"/>
<rect x="198" y="404" width="3" height="3" fill="#008080"/>
<rect x="202" y="405" width="3" height="2" fill="#008080"/>
<rect x="210" y="405" width="3" height="2" fill="#008080"/>
<rect x="214" y="403" width="3" height="4" fill="#008080"/>
<rect x="218" y="403" width="3" height="4" fill="#008080"/>
<rect x="222" y="403" width="3" height="4" fill="#008080"/>
<rect x="226" y="403" width="3" height="4" fill="#008080"/>
<rect x="230" y="403" width="3" height="4" fill="#008080"/>
<rect x="234" y="400" width="3" height="7" fill="#008080"/>
<rect x="238" y="397" width="3" height="10" fill="#008080"/>
<rect x="242" y="396" width="3" height="11" fill="#008080"/>
<rect x="246" y="394" width="3" height="13" fill="#008080"/>
<rect x="250" y="392" width="3" height="15" fill="#008080"/>
<rect x="254" y="388" width="3" height="19" fill="#008080"/>
<rect x="258" y="385" width="3" height="22" fill="#008080"/>
<rect x="262" y="383" width="3" height="24" fill="#008080"/>
<rect x="266" y="384" width="3" height="23" fill="#008080"/>
<rect x="270" y="384" width="3" height="23" fill="#008080"/>
<rect x="274" y="383" width="3" height="24" fill="#008080"/>
<rect x="278" y="385" width="3" height="22" fill="#008080"/>
<rect x="282" y="389" width="3" height="18" fill="#008080"/>
<rect x="286" y="391" width="3" height="16" fill="#008080"/>
<rect x="290" y="391" width="3" height="16" fill="#008080"/>
<rect x="294" y="392" width="3" height="15" fill="#008080"/>
<rect x="298" y="398" width="3" height="9" fill="#008080"/>
<rect x="302" y="402" width="3" height="5" fill="#008080"/>
<rect x="310" y="406" width="3" height="4" fill="#008080"/>
<rect x="314" y="406" width="3" height="7" fill="#008080"/>
<rect x="318" y="406" width="3" height="11" fill="#008080"/>
<rect x="322" y="406" width="3" height="14" fill="#008080"/>
<rect x="326" y="406" width="3" height="14" fill="#008080"/>
<rect x="330" y="406" width="3" height="13" fill="#008080"/>
<rect x="334" y="406" width="3" height="11" fill="#008080"/>
<rect x="338" y="406" width="3" height="7" fill="#008080"/>
<rect x="342" y="406" width="3" height="5" fill="#008080"/>
<rect x="346" y="406" width="3" height="3" fill="#008080"/>
<rect x="350" y="406" width="3" height="2" fill="#008080"/>
<rect x="354" y="406" width="3" height="5" fill="#008080"/>
<rect x="358" y="406" width="3" height="6" fill="#008080"/>
<rect x="362" y="406" width="3" height="4" fill="#008080"/>
<rect x="370" y="404" width="3" height="3" fill="#008080"/>
<rect x="374" y="403" width="3" height="4" fill="#008080"/>
<rect x="378" y="401" width="3" height="6" fill="#008080"/>
<rect x="382" y="401" width="3" height="6" fill="#008080"/>
<rect x="386" y="402" width="3" height="5" fill="#008080"/>
<rect x="390" y="403" width="3" height="4" fill="#008080"/>
<rect x="394" y="404" width="3" height="3" fill="#008080"/>
<rect x="398" y="402" width="3" height="5" fill="#008080"/>
<rect x="402" y="402" width="3" height="5" fill="#008080"/>
<rect x="406" y="405" width="3" height="2" fill="#008080"/>
<rect x="410" y="406" width="3" height="4" fill="#008080"/>
<rect x="414" y="406" width="3" height="6" fill="#008080"/>
<rect x="418" y="406" width="3" height="8" fill="#008080"/>
<rect x="422" y="406" width="3" height="9" fill="#008080"/>
<rect x="426" y="406" width="3" height="13" fill="#008080"/>
<rect x="430" y="406" width="3" height="15" fill="#008080"/>
<rect x="434" y="406" width="3" height="11" fill="#008080"/>
<rect x="438" y="406" width="3" height="8" fill="#008080"/>
<rect x="442" y="406" width="3" height="5" fill="#008080"/>
<rect x="446" y="406" width="3" height="2" fill="#008080"/>
<rect x="450" y="406" width="3" height="6" fill="#008080"/>
<rect x="454" y="406" width="3" height="13" fill="#008080"/>
<rect x="458" y="406" width="3" height="17" fill="#008080"/>
<rect x="462" y="406" width="3" height="17" fill="#008080"/>
<rect x="466" y="406" width="3" height="14" fill="#008080"/>
<rect x="470" y="406" width="3" height="13" fill="#008080"/>
<rect x="474" y="406" width="3" height="11" fill="#008080"/>
<rect x="478" y="406" width="3" height="5" fill="#008080"/>
<rect x="486" y="402" width="3" height="5" fill="#008080"/>
<rect x="490" y="399" width="3" height="8" fill="#008080"/>
<rect x="494" y="398" width="3" height="9" fill="#008080"/>
<rect x="498" y="399" width="3" height="8" fill="#008080"/>
<rect x="502" y="402" width="3" height="5" fill="#008080"/>
<rect x="506" y="405" width="3" height="2" fill="#008080"/>
<rect x="510" y="406" width="3" height="2" fill="#008080"/>
<rect x="514" y="406" width="3" height="4" fill="#008080"/>
<rect x="518" y="406" width="3" height="5" fill="#008080"/>
<rect x="522" y="406" width="3" height="6" fill="#008080"/>
<rect x="526" y="406" width="3" height="3" fill="#008080"/>
<rect x="530" y="404" width="3" height="3" fill="#008080"/>
<rect x="534" y="402" width="3" height="5" fill="#008080"/>
<rect x="538" y="399" width="3" height="8" fill="#008080"/>
<rect x="542" y="401" width="3" height="6" fill="#008080"/>
<rect x="546" y="400" width="3" height="7" fill="#008080"/>
<rect x="550" y="399" width="3" height="8" fill="#008080"/>
<rect x="554" y="400" width="3" height="7" fill="#008080"/>
<rect x="558" y="395" width="3" height="12" fill="#008080"/>
<rect x="562" y="392" width="3" height="15" fill="#008080"/>
<rect x="566" y="392" width="3" height="15" fill="#008080"/>
<polyline points="3.5,418.5 7.5,413.9 11.5,410.3 15.5,408.0 19.5,407.7 23.5,407.1 27.5,407.7 31.5,408.4 35.5,408.9 39.5,409.5 43.5,410.2 47.5,410.5 51.5,411.0 55.5,411.8 59.5,412.8 63.5,413.9 67.5,415.3 71.5,416.6 75.5,417.9 79.5,419.8 83.5,421.6 87.5,422.8 91.5,424.1 95.5,425.0 99.5,424.9 103.5,424.4 107.5,424.1 111.5,422.4 115.5,419.9 119.5,417.4 123.5,414.4 127.5,411.0 131.5,408.6 135.5,407.3 139.5,406.7 143.5,407.4 147.5,410.0 151.5,413.0 155.5,415.7 159.5,418.1 163.5,418.3 167.5,416.2 171.5,413.9 175.5,411.1 179.5,407.9 183.5,405.7 187.5,404.6 191.5,403.5 195.5,402.8 199.5,402.8 203.5,403.5 207.5,404.3 211.5,404.9 215.5,405.0 219.5,404.9 223.5,404.6 227.5,404.0 231.5,403.5 235.5,403.0 239.5,401.9 243.5,400.3 247.5,398.5 251.5,396.3 255.5,393.9 259.5,391.3 263.5,388.8 267.5,386.7 271.5,385.2 275.5,384.2 279.5,384.3 283.5,385.5 287.5,387.0 291.5,388.4 295.5,390.1 299.5,392.7 303.5,395.4 307.5,398.5 311.5,402.0 315.5,405.9 319.5,409.6 323.5,412.9 327.5,415.3 331.5,417.3 335.5,418.1 339.5,417.3 343.5,415.6 347.5,413.5 351.5,411.3 355.5,410.2 359.5,409.9 363.5,409.7 367.5,409.3 371.5,408.7 375.5,407.2 379.5,405.3 383.5,403.7 387.5,402.9 391.5,402.7 395.5,402.9 399.5,403.1 403.5,403.1 407.5,403.7 411.5,405.0 415.5,406.4 419.5,408.6 423.5,411.1 427.5,413.7 431.5,415.8 435.5,416.7 439.5,416.7 443.5,415.9 447.5,413.5 451.5,411.8 455.5,412.3 459.5,414.2 463.5,416.5 467.5,419.0 471.5,420.3 475.5,420.0 479.5,417.5 483.5,414.4 487.5,411.0 491.5,407.3 495.5,403.6 499.5,401.5 503.5,400.7 507.5,401.2 511.5,402.8 515.5,404.9 519.5,407.2 523.5,408.8 527.5,409.4 531.5,408.8 535.5,407.4 539.5,405.1 543.5,403.2 547.5,401.7 551.5,400.6 555.5,400.2 559.5,399.5 563.5,397.6 567.5,396.1" fill="none" stroke="#DC143C" stroke-width="2" shape-rendering="crispEdges" stroke-linejoin="round"/>
</g>
<g clip-path="url(#c3)">
<path d="M4 447.5H712" stroke="#006400" stroke-width="1" stroke-dasharray="3,3" fill="none"/>
<path d="M4 469.5H712" stroke="#006400" stroke-width="1" stroke-dasharray="3,3" fill="none"/>
<polyline points="3.5,454.8 7.5,454.0 11.5,456.5 15.5,456.8 19.5,456.7 23.5,458.1 27.5,461.4 31.5,458.7 35.5,458.2 39.5,458.9 43.5,460.4 47.5,461.3 51.5,461.8 55.5,463.0 59.5,463.3 63.5,465.3 67.5,467.3 71.5,465.3 75.5,467.6 79.5,470.5 83.5,469.2 87.5,465.6 91.5,467.9 95.5,467.5 99.5,464.0 103.5,465.3 107.5,466.2 111.5,456.5 115.5,455.8 119.5,457.7 123.5,455.7 127.5,454.4 131.5,456.4 135.5,458.8 139.5,459.5 143.5,464.0 147.5,468.0 151.5,463.7 155.5,463.2 159.5,463.0 163.5,455.1 167.5,454.9 171.5,458.4 175.5,456.6 179.5,455.6 183.5,454.5 187.5,456.9 191.5,456.9 195.5,456.9 199.5,458.0 203.5,458.9 207.5,459.4 211.5,456.9 215.5,454.6 219.5,457.0 223.5,457.3 227.5,456.5 231.5,456.5 235.5,452.7 239.5,451.0 243.5,450.8 247.5,450.2 251.5,448.2 255.5,446.2 259.5,444.5 263.5,444.5 267.5,448.5 271.5,448.1 275.5,446.5 279.5,450.5 283.5,455.3 287.5,454.1 291.5,452.5 295.5,453.4 299.5,461.5 303.5,461.9 307.5,463.4 311.5,462.7 315.5,464.8 319.5,467.7 323.5,467.9 327.5,463.8 331.5,464.3 335.5,460.7 339.5,458.1 343.5,458.9 347.5,457.6 351.5,457.5 355.5,463.4 359.5,461.4 363.5,458.1 367.5,456.3 371.5,455.2 375.5,456.3 379.5,455.0 383.5,456.1 387.5,458.0 391.5,457.8 395.5,458.8 399.5,454.6 403.5,456.2 407.5,461.7 411.5,463.6 415.5,462.9 419.5,463.1 423.5,464.5 427.5,467.7 431.5,466.1 435.5,458.5 439.5,458.9 443.5,457.6 447.5,455.5 451.5,463.3 455.5,466.4 459.5,466.7 463.5,462.6 467.5,461.1 471.5,460.9 475.5,461.0 479.5,454.9 483.5,455.1 487.5,454.3 491.5,453.3 495.5,454.0 499.5,456.7 503.5,459.1 507.5,460.2 511.5,460.6 515.5,461.0 519.5,462.0 523.5,460.6 527.5,456.3 531.5,454.5 535.5,453.9 539.5,452.4 543.5,458.6 547.5,455.1 551.5,454.8 555.5,456.7 559.5,451.5 563.5,451.1 567.5,453.9" fill="none" stroke="#008080" stroke-width="2" stroke-linejoin="round"/>
</g>
<rect x="2" y="2" width="711" height="1" fill="#000"/>
<rect x="2" y="377" width="711" height="1" fill="#000"/>
<rect x="2" y="2" width="1" height="376" fill="#000"/>
<rect x="712" y="2" width="1" height="376" fill="#000"/>
<rect x="2" y="379" width="711" height="1" fill="#000"/>
<rect x="2" y="428" width="711" height="1" fill="#000"/>
<rect x="2" y="379" width="1" height="50" fill="#000"/>
<rect x="712" y="379" width="1" height="50" fill="#000"/>
<rect x="2" y="430" width="711" height="1" fill="#000"/>
<rect x="2" y="485" width="711" height="1" fill="#000"/>
<rect x="2" y="430" width="1" height="56" fill="#000"/>
<rect x="712" y="430" width="1" height="56" fill="#000"/>
<rect x="713" y="11" width="2" height="1" fill="#000"/>
<rect x="713" y="44" width="2" height="1" fill="#000"/>
<rect x="713" y="77" width="2" height="1" fill="#000"/>
<rect x="713" y="110" width="2" height="1" fill="#000"/>
<rect x="713" y="143" width="2" height="1" fill="#000"/>
<rect x="713" y="176" width="2" height="1" fill="#000"/>
<rect x="713" y="209" width="2" height="1" fill="#000"/>
<rect x="713" y="242" width="2" height="1" fill="#000"/>
<rect x="713" y="275" width="2" height="1" fill="#000"/>
<rect x="713" y="308" width="2" height="1" fill="#000"/>
<rect x="713" y="341" width="2" height="1" fill="#000"/>
<rect x="713" y="374" width="2" height="1" fill="#000"/>
<rect x="713" y="381" width="1" height="1" fill="#000"/>
<rect x="713" y="406" width="1" height="1" fill="#000"/>
<rect x="713" y="427" width="1" height="1" fill="#000"/>
<rect x="713" y="432" width="1" height="1" fill="#000"/>
<rect x="713" y="484" width="1" height="1" fill="#000"/>
<rect x="3" y="486" width="1" height="3" fill="#000"/>
<rect x="67" y="486" width="1" height="3" fill="#000"/>
<rect x="131" y="486" width="1" height="3" fill="#000"/>
<rect x="195" y="486" width="1" height="3" fill="#000"/>
<rect x="259" y="486" width="1" height="3" fill="#000"/>
<rect x="323" y="486" width="1" height="3" fill="#000"/>
<rect x="387" y="486" width="1" height="3" fill="#000"/>
<rect x="451" y="486" width="1" height="3" fill="#000"/>
<rect x="515" y="486" width="1" height="3" fill="#000"/>
<g font-family="'Liberation Sans', sans-serif" shape-rendering="auto" text-rendering="geometricPrecision">
<path d="M6 9h7l-3.5 4z" fill="#000" shape-rendering="crispEdges"/>
<text x="19" y="14" font-size="10" fill="#000" textLength="55" lengthAdjust="spacingAndGlyphs" stroke="#000" stroke-width="0.2">AUDUSD,H4</text>
<text x="80.3" y="14" font-size="10" fill="#000" textLength="32.7" lengthAdjust="spacingAndGlyphs" stroke="#000" stroke-width="0.2">0.74564</text>
<text x="117.2" y="14" font-size="10" fill="#000" textLength="31.8" lengthAdjust="spacingAndGlyphs" stroke="#000" stroke-width="0.2">0.74625</text>
<text x="152.6" y="14" font-size="10" fill="#000" textLength="31.6" lengthAdjust="spacingAndGlyphs" stroke="#000" stroke-width="0.2">0.74314</text>
<text x="188.2" y="14" font-size="10" fill="#000" textLength="32" lengthAdjust="spacingAndGlyphs" stroke="#000" stroke-width="0.2">0.74408</text>
<text x="718" y="15" font-size="10" fill="#000" textLength="33" lengthAdjust="spacingAndGlyphs" stroke="#000" stroke-width="0.2">0.74880</text>
<text x="718" y="48" font-size="10" fill="#000" textLength="33" lengthAdjust="spacingAndGlyphs" stroke="#000" stroke-width="0.2">0.74715</text>
<text x="718" y="81" font-size="10" fill="#000" textLength="33" lengthAdjust="spacingAndGlyphs" stroke="#000" stroke-width="0.2">0.74550</text>
<text x="718" y="114" font-size="10" fill="#000" textLength="33" lengthAdjust="spacingAndGlyphs" stroke="#000" stroke-width="0.2">0.74385</text>
<text x="718" y="147" font-size="10" fill="#000" textLength="33" lengthAdjust="spacingAndGlyphs" stroke="#000" stroke-width="0.2">0.74220</text>
<text x="718" y="180" font-size="10" fill="#000" textLength="33" lengthAdjust="spacingAndGlyphs" stroke="#000" stroke-width="0.2">0.74055</text>
<text x="718" y="213" font-size="10" fill="#000" textLength="33" lengthAdjust="spacingAndGlyphs" stroke="#000" stroke-width="0.2">0.73890</text>
<text x="718" y="246" font-size="10" fill="#000" textLength="33" lengthAdjust="spacingAndGlyphs" stroke="#000" stroke-width="0.2">0.73725</text>
<text x="718" y="279" font-size="10" fill="#000" textLength="33" lengthAdjust="spacingAndGlyphs" stroke="#000" stroke-width="0.2">0.73560</text>
<text x="718" y="312" font-size="10" fill="#000" textLength="33" lengthAdjust="spacingAndGlyphs" stroke="#000" stroke-width="0.2">0.73395</text>
<text x="718" y="345" font-size="10" fill="#000" textLength="33" lengthAdjust="spacingAndGlyphs" stroke="#000" stroke-width="0.2">0.73230</text>
<text x="718" y="378" font-size="10" fill="#000" textLength="33" lengthAdjust="spacingAndGlyphs" stroke="#000" stroke-width="0.2">0.73065</text>
<rect x="714" y="101" width="41" height="11" fill="#000" shape-rendering="crispEdges"/>
<text x="718" y="110" font-size="10" fill="#fff" textLength="33" lengthAdjust="spacingAndGlyphs" stroke="#fff" stroke-width="0.2">0.74408</text>
<text x="716" y="390" font-size="10" fill="#000" textLength="38.5" lengthAdjust="spacingAndGlyphs" stroke="#000" stroke-width="0.2">0.005707</text>
<text x="716" y="410" font-size="10" fill="#000" textLength="18" lengthAdjust="spacingAndGlyphs" stroke="#000" stroke-width="0.2">0.00</text>
<text x="716" y="410" font-size="10" fill="#000" textLength="5.5" lengthAdjust="spacingAndGlyphs" stroke="#000" stroke-width="0.2">0</text>
<text x="716" y="425" font-size="10" fill="#000" textLength="42.5" lengthAdjust="spacingAndGlyphs" stroke="#000" stroke-width="0.2">-0.004742</text>
<text x="716" y="441" font-size="10" fill="#000" textLength="15.5" lengthAdjust="spacingAndGlyphs" stroke="#000" stroke-width="0.2">100</text>
<text x="716" y="451" font-size="10" fill="#000" textLength="9.8" lengthAdjust="spacingAndGlyphs" stroke="#000" stroke-width="0.2">70</text>
<text x="716" y="473" font-size="10" fill="#000" textLength="9.8" lengthAdjust="spacingAndGlyphs" stroke="#000" stroke-width="0.2">30</text>
<text x="716" y="482" font-size="10" fill="#000" textLength="5.2" lengthAdjust="spacingAndGlyphs" stroke="#000" stroke-width="0.2">0</text>
<text x="7.5" y="392" font-size="10" fill="#000" textLength="60" lengthAdjust="spacingAndGlyphs" stroke="#000" stroke-width="0.2">MACD(5,35,5)</text>
<text x="71.6" y="392" font-size="10" fill="#000" textLength="36.7" lengthAdjust="spacingAndGlyphs" stroke="#000" stroke-width="0.2">0.003066</text>
<text x="113" y="392" font-size="10" fill="#000" textLength="35.7" lengthAdjust="spacingAndGlyphs" stroke="#000" stroke-width="0.2">0.002244</text>
<text x="7.5" y="443" font-size="10" fill="#000" textLength="30.3" lengthAdjust="spacingAndGlyphs" stroke="#000" stroke-width="0.2">RSI(14)</text>
<text x="40.8" y="443" font-size="10" fill="#000" textLength="33.7" lengthAdjust="spacingAndGlyphs" stroke="#000" stroke-width="0.2">58.4918</text>
<text x="2.4" y="498" font-size="10" fill="#000" textLength="49.6" lengthAdjust="spacingAndGlyphs" stroke="#000" stroke-width="0.2">22 Jun 2018</text>
<text x="66.2" y="498" font-size="10" fill="#000" textLength="52.5" lengthAdjust="spacingAndGlyphs" stroke="#000" stroke-width="0.2">27 Jun 08:00</text>
<text x="131" y="498" font-size="10" fill="#000" textLength="43.5" lengthAdjust="spacingAndGlyphs" stroke="#000" stroke-width="0.2">2 Jul 00:00</text>
<text x="194" y="498" font-size="10" fill="#000" textLength="44.5" lengthAdjust="spacingAndGlyphs" stroke="#000" stroke-width="0.2">4 Jul 16:00</text>
<text x="258.3" y="498" font-size="10" fill="#000" textLength="44.3" lengthAdjust="spacingAndGlyphs" stroke="#000" stroke-width="0.2">9 Jul 08:00</text>
<text x="323.2" y="498" font-size="10" fill="#000" textLength="48.3" lengthAdjust="spacingAndGlyphs" stroke="#000" stroke-width="0.2">12 Jul 00:00</text>
<text x="386.6" y="498" font-size="10" fill="#000" textLength="49.0" lengthAdjust="spacingAndGlyphs" stroke="#000" stroke-width="0.2">16 Jul 16:00</text>
<text x="450" y="498" font-size="10" fill="#000" textLength="49.7" lengthAdjust="spacingAndGlyphs" stroke="#000" stroke-width="0.2">19 Jul 08:00</text>
<text x="514.3" y="498" font-size="10" fill="#000" textLength="49.3" lengthAdjust="spacingAndGlyphs" stroke="#000" stroke-width="0.2">24 Jul 00:00</text>
</g>
</svg>
</body></html>
